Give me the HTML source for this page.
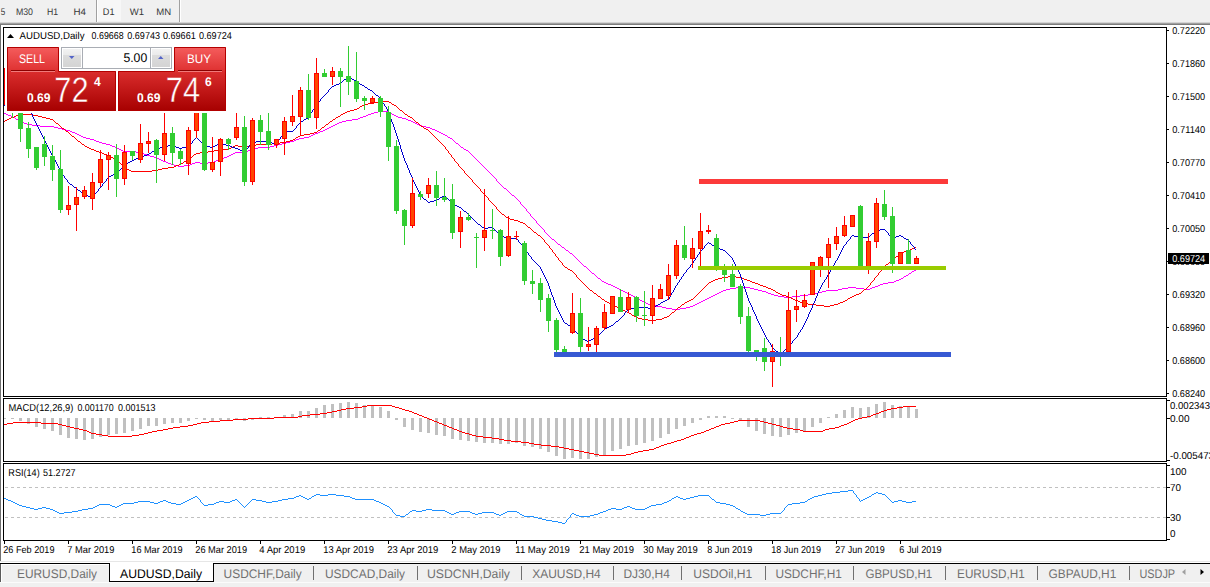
<!DOCTYPE html>
<html><head><meta charset="utf-8"><title>AUDUSD,Daily</title>
<style>
html,body{margin:0;padding:0;background:#fff;overflow:hidden;}
body{width:1210px;height:587px;}
svg{display:block;font-family:"Liberation Sans", sans-serif;text-rendering:geometricPrecision;}
</style></head><body>
<svg width="1210" height="587" viewBox="0 0 1210 587">
<rect x="0" y="0" width="1210" height="587" fill="#ffffff"/>
<rect x="0" y="0" width="1210" height="22" fill="#f0f0f0"/>
<rect x="0" y="22" width="1210" height="1" fill="#d4d4d4"/>
<rect x="0" y="23" width="1210" height="1" fill="#a0a0a0"/>
<rect x="0" y="24" width="1210" height="1" fill="#7c7c7c"/>
<rect x="97" y="0" width="24" height="21" fill="#f7f7f7"/>
<rect x="96" y="0" width="1" height="22" fill="#a0a0a0"/>
<rect x="97" y="0" width="1" height="22" fill="#ffffff"/>
<rect x="179" y="0" width="1" height="22" fill="#a0a0a0"/>
<rect x="180" y="0" width="1" height="22" fill="#ffffff"/>
<text x="0.7" y="15" font-size="9.6" fill="#383838" font-weight="normal" text-anchor="start" textLength="4.5" lengthAdjust="spacingAndGlyphs">5</text>
<text x="15.9" y="15" font-size="9.6" fill="#383838" font-weight="normal" text-anchor="start" textLength="17.1" lengthAdjust="spacingAndGlyphs">M30</text>
<text x="46.9" y="15" font-size="9.6" fill="#383838" font-weight="normal" text-anchor="start" textLength="11.1" lengthAdjust="spacingAndGlyphs">H1</text>
<text x="73.5" y="15" font-size="9.6" fill="#383838" font-weight="normal" text-anchor="start" textLength="12.5" lengthAdjust="spacingAndGlyphs">H4</text>
<text x="102.8" y="15" font-size="9.6" fill="#383838" font-weight="normal" text-anchor="start" textLength="11.7" lengthAdjust="spacingAndGlyphs">D1</text>
<text x="129.8" y="15" font-size="9.6" fill="#383838" font-weight="normal" text-anchor="start" textLength="14.3" lengthAdjust="spacingAndGlyphs">W1</text>
<text x="156.2" y="15" font-size="9.6" fill="#383838" font-weight="normal" text-anchor="start" textLength="14.9" lengthAdjust="spacingAndGlyphs">MN</text>
<rect x="0" y="25" width="1" height="536" fill="#707070"/>
<rect x="3" y="27" width="1164" height="1" fill="#000"/>
<rect x="3" y="396" width="1164" height="1" fill="#000"/>
<rect x="3" y="27" width="1" height="370" fill="#000"/>
<rect x="1166" y="27" width="1" height="370" fill="#000"/>
<rect x="3" y="398" width="1164" height="1" fill="#000"/>
<rect x="3" y="461" width="1164" height="1" fill="#000"/>
<rect x="3" y="398" width="1" height="64" fill="#000"/>
<rect x="1166" y="398" width="1" height="64" fill="#000"/>
<rect x="3" y="463" width="1164" height="1" fill="#000"/>
<rect x="3" y="540" width="1164" height="1" fill="#000"/>
<rect x="3" y="463" width="1" height="78" fill="#000"/>
<rect x="1166" y="463" width="1" height="78" fill="#000"/>
<g shape-rendering="crispEdges">
<clipPath id="cm"><rect x="4" y="28" width="1162" height="368"/></clipPath>
<g clip-path="url(#cm)">
<path d="M378,111h11v1h-11zM374,112h4v1h-4zM389,112h2v1h-2zM4,113h2v1h-2zM371,113h3v1h-3zM391,113h1v1h-1zM6,114h2v1h-2zM368,114h3v1h-3zM392,114h2v1h-2zM8,115h3v1h-3zM366,115h2v1h-2zM394,115h2v1h-2zM11,116h2v1h-2zM363,116h3v1h-3zM396,116h2v1h-2zM13,117h2v1h-2zM360,117h3v1h-3zM398,117h4v1h-4zM15,118h1v1h-1zM358,118h2v1h-2zM402,118h4v1h-4zM16,119h2v1h-2zM352,119h6v1h-6zM406,119h2v1h-2zM18,120h2v1h-2zM346,120h6v1h-6zM408,120h3v1h-3zM20,121h2v1h-2zM342,121h4v1h-4zM411,121h2v1h-2zM22,122h2v1h-2zM339,122h3v1h-3zM413,122h2v1h-2zM24,123h3v1h-3zM337,123h2v1h-2zM415,123h2v1h-2zM27,124h5v1h-5zM335,124h2v1h-2zM417,124h2v1h-2zM32,125h8v1h-8zM333,125h2v1h-2zM419,125h3v1h-3zM40,126h14v1h-14zM331,126h2v1h-2zM422,126h4v1h-4zM54,127h4v1h-4zM329,127h2v1h-2zM426,127h4v1h-4zM58,128h4v1h-4zM327,128h2v1h-2zM430,128h2v1h-2zM62,129h4v1h-4zM325,129h2v1h-2zM432,129h3v1h-3zM66,130h4v1h-4zM323,130h2v1h-2zM435,130h2v1h-2zM70,131h2v1h-2zM320,131h3v1h-3zM437,131h2v1h-2zM72,132h3v1h-3zM318,132h2v1h-2zM439,132h2v1h-2zM75,133h2v1h-2zM315,133h3v1h-3zM441,133h2v1h-2zM77,134h2v1h-2zM313,134h2v1h-2zM443,134h2v1h-2zM79,135h2v1h-2zM311,135h2v1h-2zM445,135h2v1h-2zM81,136h2v1h-2zM309,136h2v1h-2zM447,136h1v1h-1zM83,137h3v1h-3zM304,137h5v1h-5zM448,137h2v1h-2zM86,138h4v1h-4zM299,138h5v1h-5zM450,138h2v1h-2zM90,139h4v1h-4zM296,139h3v1h-3zM452,139h1v1h-1zM94,140h2v1h-2zM294,140h2v1h-2zM453,140h1v1h-1zM96,141h3v1h-3zM290,141h4v1h-4zM454,141h1v1h-1zM99,142h3v1h-3zM286,142h4v1h-4zM455,142h1v1h-1zM102,143h4v1h-4zM282,143h4v1h-4zM456,143h2v1h-2zM106,144h4v1h-4zM278,144h4v1h-4zM458,144h1v1h-1zM110,145h2v1h-2zM274,145h4v1h-4zM459,145h1v1h-1zM112,146h3v1h-3zM270,146h4v1h-4zM460,146h1v1h-1zM115,147h2v1h-2zM258,147h12v1h-12zM461,147h2v1h-2zM117,148h2v1h-2zM254,148h4v1h-4zM463,148h1v1h-1zM119,149h2v1h-2zM251,149h3v1h-3zM464,149h2v1h-2zM121,150h2v1h-2zM248,150h3v1h-3zM466,150h2v1h-2zM123,151h13v1h-13zM246,151h2v1h-2zM468,151h1v1h-1zM136,152h6v1h-6zM235,152h11v1h-11zM469,152h1v1h-1zM142,153h2v1h-2zM233,153h2v1h-2zM470,153h1v1h-1zM144,154h3v1h-3zM231,154h2v1h-2zM471,154h1v1h-1zM147,155h3v1h-3zM229,155h2v1h-2zM472,155h1v1h-1zM150,156h4v1h-4zM227,156h2v1h-2zM473,156h1v1h-1zM154,157h3v1h-3zM224,157h3v1h-3zM474,157h1v1h-1zM157,158h2v1h-2zM222,158h2v1h-2zM475,158h1v1h-1zM159,159h2v1h-2zM219,159h3v1h-3zM476,159h1v1h-1zM161,160h2v1h-2zM216,160h3v1h-3zM477,160h1v1h-1zM163,161h3v1h-3zM214,161h2v1h-2zM478,161h1v1h-1zM166,162h2v1h-2zM195,162h5v1h-5zM208,162h6v1h-6zM479,162h1v1h-1zM168,163h3v1h-3zM192,163h3v1h-3zM200,163h8v1h-8zM480,163h1v1h-1zM171,164h3v1h-3zM190,164h2v1h-2zM481,164h1v1h-1zM174,165h4v1h-4zM184,165h6v1h-6zM482,165h1v1h-1zM178,166h6v1h-6zM483,166h1v1h-1zM484,167h1v1h-1zM485,168h1v1h-1zM486,169h1v1h-1zM487,170h1v1h-1zM488,171h1v1h-1zM489,172h1v1h-1zM490,173h1v1h-1zM491,174h1v1h-1zM492,175h1v1h-1zM493,176h1v1h-1zM494,177h1v1h-1zM495,178h1v1h-1zM496,179h1v1h-1zM496,180h1v1h-1zM497,181h1v1h-1zM498,182h1v1h-1zM499,183h1v1h-1zM500,184h1v1h-1zM501,185h1v1h-1zM502,186h1v1h-1zM503,187h1v1h-1zM504,188h2v1h-2zM506,189h1v1h-1zM507,190h1v1h-1zM508,191h1v1h-1zM509,192h1v1h-1zM510,193h1v1h-1zM511,194h1v1h-1zM512,195h2v1h-2zM514,196h1v1h-1zM515,197h1v1h-1zM516,198h1v1h-1zM517,199h1v1h-1zM518,200h1v1h-1zM519,201h1v1h-1zM520,202h1v1h-1zM520,203h1v1h-1zM521,204h1v1h-1zM522,205h1v1h-1zM523,206h1v1h-1zM524,207h1v1h-1zM525,208h1v1h-1zM526,209h1v1h-1zM526,210h1v1h-1zM527,211h1v1h-1zM528,212h1v1h-1zM529,213h1v1h-1zM530,214h1v1h-1zM530,215h1v1h-1zM531,216h1v1h-1zM532,217h1v1h-1zM533,218h1v1h-1zM534,219h1v1h-1zM535,220h1v1h-1zM536,221h1v1h-1zM536,222h1v1h-1zM537,223h1v1h-1zM538,224h1v1h-1zM539,225h1v1h-1zM540,226h1v1h-1zM541,227h1v1h-1zM542,228h1v1h-1zM543,229h1v1h-1zM544,230h1v1h-1zM544,231h1v1h-1zM545,232h1v1h-1zM546,233h1v1h-1zM547,234h1v1h-1zM548,235h1v1h-1zM549,236h1v1h-1zM550,237h1v1h-1zM551,238h1v1h-1zM552,239h2v1h-2zM554,240h1v1h-1zM555,241h1v1h-1zM556,242h1v1h-1zM557,243h1v1h-1zM558,244h2v1h-2zM560,245h1v1h-1zM561,246h1v1h-1zM562,247h2v1h-2zM564,248h1v1h-1zM565,249h1v1h-1zM566,250h2v1h-2zM568,251h1v1h-1zM569,252h1v1h-1zM570,253h2v1h-2zM572,254h1v1h-1zM573,255h1v1h-1zM574,256h1v1h-1zM575,257h1v1h-1zM576,258h1v1h-1zM577,259h1v1h-1zM578,260h1v1h-1zM579,261h1v1h-1zM580,262h1v1h-1zM581,263h1v1h-1zM582,264h1v1h-1zM583,265h1v1h-1zM584,266h2v1h-2zM586,267h1v1h-1zM587,268h1v1h-1zM588,269h1v1h-1zM589,270h1v1h-1zM914,270h2v1h-2zM590,271h1v1h-1zM912,271h2v1h-2zM591,272h1v1h-1zM911,272h1v1h-1zM592,273h2v1h-2zM909,273h2v1h-2zM594,274h1v1h-1zM908,274h1v1h-1zM595,275h1v1h-1zM906,275h2v1h-2zM596,276h1v1h-1zM904,276h2v1h-2zM597,277h1v1h-1zM903,277h1v1h-1zM598,278h2v1h-2zM901,278h2v1h-2zM600,279h1v1h-1zM899,279h2v1h-2zM601,280h1v1h-1zM896,280h3v1h-3zM602,281h2v1h-2zM894,281h2v1h-2zM604,282h2v1h-2zM888,282h6v1h-6zM606,283h2v1h-2zM883,283h5v1h-5zM608,284h3v1h-3zM880,284h3v1h-3zM611,285h2v1h-2zM878,285h2v1h-2zM613,286h2v1h-2zM875,286h3v1h-3zM615,287h2v1h-2zM736,287h14v1h-14zM848,287h8v1h-8zM872,287h3v1h-3zM617,288h2v1h-2zM730,288h6v1h-6zM750,288h4v1h-4zM842,288h6v1h-6zM856,288h8v1h-8zM870,288h2v1h-2zM619,289h2v1h-2zM726,289h4v1h-4zM754,289h4v1h-4zM838,289h4v1h-4zM864,289h6v1h-6zM621,290h2v1h-2zM723,290h3v1h-3zM758,290h4v1h-4zM826,290h12v1h-12zM623,291h2v1h-2zM721,291h2v1h-2zM762,291h4v1h-4zM822,291h4v1h-4zM625,292h2v1h-2zM719,292h2v1h-2zM766,292h2v1h-2zM818,292h4v1h-4zM627,293h2v1h-2zM717,293h2v1h-2zM768,293h3v1h-3zM814,293h4v1h-4zM629,294h2v1h-2zM715,294h2v1h-2zM771,294h3v1h-3zM808,294h6v1h-6zM631,295h2v1h-2zM713,295h2v1h-2zM774,295h4v1h-4zM800,295h8v1h-8zM633,296h2v1h-2zM711,296h2v1h-2zM778,296h6v1h-6zM792,296h8v1h-8zM635,297h2v1h-2zM709,297h2v1h-2zM784,297h8v1h-8zM637,298h2v1h-2zM707,298h2v1h-2zM639,299h1v1h-1zM705,299h2v1h-2zM640,300h2v1h-2zM703,300h2v1h-2zM642,301h2v1h-2zM701,301h2v1h-2zM644,302h2v1h-2zM699,302h2v1h-2zM646,303h2v1h-2zM697,303h2v1h-2zM648,304h3v1h-3zM695,304h2v1h-2zM651,305h5v1h-5zM693,305h2v1h-2zM656,306h6v1h-6zM690,306h3v1h-3zM662,307h4v1h-4zM686,307h4v1h-4zM666,308h6v1h-6zM680,308h6v1h-6zM672,309h8v1h-8z" fill="#ff00ff"/>
<path d="M378,101h11v1h-11zM374,102h4v1h-4zM389,102h2v1h-2zM368,103h6v1h-6zM391,103h1v1h-1zM364,104h4v1h-4zM392,104h2v1h-2zM362,105h2v1h-2zM394,105h2v1h-2zM360,106h2v1h-2zM396,106h1v1h-1zM359,107h1v1h-1zM397,107h1v1h-1zM357,108h2v1h-2zM398,108h1v1h-1zM354,109h3v1h-3zM399,109h1v1h-1zM350,110h4v1h-4zM400,110h2v1h-2zM347,111h3v1h-3zM402,111h1v1h-1zM345,112h2v1h-2zM403,112h1v1h-1zM343,113h2v1h-2zM404,113h1v1h-1zM19,114h13v1h-13zM341,114h2v1h-2zM405,114h2v1h-2zM16,115h3v1h-3zM32,115h6v1h-6zM340,115h1v1h-1zM407,115h1v1h-1zM14,116h2v1h-2zM38,116h4v1h-4zM338,116h2v1h-2zM408,116h2v1h-2zM11,117h3v1h-3zM42,117h4v1h-4zM336,117h2v1h-2zM410,117h2v1h-2zM9,118h2v1h-2zM46,118h4v1h-4zM335,118h1v1h-1zM412,118h1v1h-1zM7,119h2v1h-2zM50,119h3v1h-3zM333,119h2v1h-2zM413,119h1v1h-1zM5,120h2v1h-2zM53,120h1v1h-1zM332,120h1v1h-1zM414,120h1v1h-1zM4,121h1v1h-1zM54,121h1v1h-1zM330,121h2v1h-2zM415,121h1v1h-1zM55,122h1v1h-1zM329,122h1v1h-1zM416,122h2v1h-2zM56,123h2v1h-2zM328,123h1v1h-1zM418,123h1v1h-1zM58,124h1v1h-1zM326,124h2v1h-2zM419,124h1v1h-1zM59,125h1v1h-1zM325,125h1v1h-1zM420,125h1v1h-1zM60,126h1v1h-1zM324,126h1v1h-1zM421,126h2v1h-2zM61,127h1v1h-1zM322,127h2v1h-2zM423,127h1v1h-1zM62,128h2v1h-2zM321,128h1v1h-1zM424,128h2v1h-2zM64,129h1v1h-1zM320,129h1v1h-1zM426,129h2v1h-2zM65,130h1v1h-1zM318,130h2v1h-2zM428,130h1v1h-1zM66,131h2v1h-2zM317,131h1v1h-1zM429,131h1v1h-1zM68,132h1v1h-1zM314,132h3v1h-3zM430,132h1v1h-1zM69,133h1v1h-1zM310,133h4v1h-4zM431,133h1v1h-1zM70,134h1v1h-1zM304,134h6v1h-6zM432,134h1v1h-1zM71,135h1v1h-1zM300,135h4v1h-4zM433,135h1v1h-1zM72,136h2v1h-2zM298,136h2v1h-2zM434,136h1v1h-1zM74,137h1v1h-1zM296,137h2v1h-2zM435,137h1v1h-1zM75,138h1v1h-1zM295,138h1v1h-1zM436,138h1v1h-1zM76,139h1v1h-1zM293,139h2v1h-2zM437,139h1v1h-1zM77,140h1v1h-1zM290,140h3v1h-3zM438,140h1v1h-1zM78,141h2v1h-2zM286,141h4v1h-4zM439,141h1v1h-1zM80,142h1v1h-1zM280,142h6v1h-6zM440,142h1v1h-1zM81,143h1v1h-1zM272,143h8v1h-8zM441,143h1v1h-1zM82,144h2v1h-2zM256,144h16v1h-16zM442,144h1v1h-1zM84,145h1v1h-1zM235,145h3v1h-3zM250,145h6v1h-6zM443,145h1v1h-1zM85,146h2v1h-2zM233,146h2v1h-2zM238,146h4v1h-4zM246,146h4v1h-4zM444,146h1v1h-1zM87,147h2v1h-2zM231,147h2v1h-2zM242,147h4v1h-4zM445,147h1v1h-1zM89,148h2v1h-2zM229,148h2v1h-2zM445,148h1v1h-1zM91,149h3v1h-3zM218,149h11v1h-11zM446,149h1v1h-1zM94,150h2v1h-2zM214,150h4v1h-4zM447,150h1v1h-1zM96,151h3v1h-3zM208,151h6v1h-6zM448,151h1v1h-1zM99,152h3v1h-3zM200,152h8v1h-8zM448,152h1v1h-1zM102,153h2v1h-2zM196,153h4v1h-4zM449,153h1v1h-1zM104,154h3v1h-3zM194,154h2v1h-2zM450,154h1v1h-1zM107,155h2v1h-2zM193,155h1v1h-1zM451,155h1v1h-1zM109,156h2v1h-2zM192,156h1v1h-1zM451,156h1v1h-1zM111,157h2v1h-2zM190,157h2v1h-2zM452,157h1v1h-1zM113,158h2v1h-2zM189,158h1v1h-1zM453,158h1v1h-1zM115,159h2v1h-2zM188,159h1v1h-1zM454,159h1v1h-1zM117,160h1v1h-1zM186,160h2v1h-2zM454,160h1v1h-1zM118,161h1v1h-1zM184,161h2v1h-2zM455,161h1v1h-1zM119,162h1v1h-1zM183,162h1v1h-1zM456,162h1v1h-1zM120,163h1v1h-1zM181,163h2v1h-2zM457,163h1v1h-1zM121,164h1v1h-1zM179,164h2v1h-2zM458,164h1v1h-1zM122,165h1v1h-1zM176,165h3v1h-3zM458,165h1v1h-1zM123,166h1v1h-1zM174,166h2v1h-2zM459,166h1v1h-1zM124,167h1v1h-1zM168,167h6v1h-6zM460,167h1v1h-1zM125,168h2v1h-2zM162,168h6v1h-6zM461,168h1v1h-1zM127,169h2v1h-2zM158,169h4v1h-4zM462,169h1v1h-1zM129,170h2v1h-2zM152,170h6v1h-6zM463,170h1v1h-1zM131,171h21v1h-21zM464,171h1v1h-1zM464,172h1v1h-1zM465,173h1v1h-1zM466,174h1v1h-1zM467,175h1v1h-1zM468,176h1v1h-1zM469,177h1v1h-1zM470,178h1v1h-1zM471,179h1v1h-1zM472,180h1v1h-1zM472,181h1v1h-1zM473,182h1v1h-1zM474,183h1v1h-1zM475,184h1v1h-1zM476,185h1v1h-1zM477,186h1v1h-1zM478,187h1v1h-1zM479,188h1v1h-1zM480,189h1v1h-1zM480,190h1v1h-1zM481,191h1v1h-1zM482,192h1v1h-1zM483,193h1v1h-1zM484,194h1v1h-1zM485,195h1v1h-1zM486,196h1v1h-1zM487,197h1v1h-1zM488,198h1v1h-1zM488,199h1v1h-1zM489,200h1v1h-1zM490,201h1v1h-1zM491,202h1v1h-1zM492,203h1v1h-1zM493,204h1v1h-1zM494,205h1v1h-1zM495,206h1v1h-1zM496,207h1v1h-1zM496,208h1v1h-1zM497,209h1v1h-1zM498,210h1v1h-1zM499,211h1v1h-1zM500,212h1v1h-1zM501,213h1v1h-1zM502,214h2v1h-2zM504,215h1v1h-1zM505,216h1v1h-1zM506,217h2v1h-2zM508,218h2v1h-2zM510,219h4v1h-4zM514,220h4v1h-4zM518,221h2v1h-2zM520,222h3v1h-3zM523,223h2v1h-2zM525,224h1v1h-1zM526,225h1v1h-1zM527,226h1v1h-1zM528,227h2v1h-2zM530,228h1v1h-1zM531,229h1v1h-1zM532,230h1v1h-1zM533,231h1v1h-1zM534,232h2v1h-2zM536,233h1v1h-1zM537,234h1v1h-1zM538,235h2v1h-2zM540,236h1v1h-1zM541,237h1v1h-1zM542,238h1v1h-1zM543,239h1v1h-1zM544,240h1v1h-1zM544,241h1v1h-1zM545,242h1v1h-1zM546,243h1v1h-1zM547,244h1v1h-1zM548,245h1v1h-1zM549,246h1v1h-1zM549,247h1v1h-1zM915,247h1v1h-1zM550,248h1v1h-1zM912,248h3v1h-3zM551,249h1v1h-1zM910,249h2v1h-2zM552,250h1v1h-1zM907,250h3v1h-3zM552,251h1v1h-1zM904,251h3v1h-3zM553,252h1v1h-1zM902,252h2v1h-2zM554,253h1v1h-1zM900,253h2v1h-2zM555,254h1v1h-1zM899,254h1v1h-1zM555,255h1v1h-1zM898,255h1v1h-1zM556,256h1v1h-1zM896,256h2v1h-2zM557,257h1v1h-1zM895,257h1v1h-1zM558,258h1v1h-1zM894,258h1v1h-1zM558,259h1v1h-1zM893,259h1v1h-1zM559,260h1v1h-1zM892,260h1v1h-1zM560,261h1v1h-1zM890,261h2v1h-2zM561,262h1v1h-1zM889,262h1v1h-1zM562,263h1v1h-1zM888,263h1v1h-1zM562,264h1v1h-1zM886,264h2v1h-2zM563,265h1v1h-1zM885,265h1v1h-1zM564,266h1v1h-1zM884,266h1v1h-1zM565,267h2v1h-2zM883,267h1v1h-1zM567,268h1v1h-1zM882,268h1v1h-1zM568,269h2v1h-2zM882,269h1v1h-1zM570,270h2v1h-2zM881,270h1v1h-1zM572,271h1v1h-1zM880,271h1v1h-1zM573,272h1v1h-1zM879,272h1v1h-1zM574,273h1v1h-1zM878,273h1v1h-1zM575,274h1v1h-1zM878,274h1v1h-1zM576,275h1v1h-1zM877,275h1v1h-1zM576,276h1v1h-1zM728,276h8v1h-8zM876,276h1v1h-1zM577,277h1v1h-1zM722,277h6v1h-6zM736,277h6v1h-6zM875,277h1v1h-1zM578,278h1v1h-1zM718,278h4v1h-4zM742,278h2v1h-2zM874,278h1v1h-1zM579,279h1v1h-1zM715,279h3v1h-3zM744,279h3v1h-3zM874,279h1v1h-1zM580,280h1v1h-1zM713,280h2v1h-2zM747,280h3v1h-3zM873,280h1v1h-1zM581,281h1v1h-1zM711,281h2v1h-2zM750,281h2v1h-2zM872,281h1v1h-1zM582,282h1v1h-1zM709,282h2v1h-2zM752,282h3v1h-3zM871,282h1v1h-1zM583,283h1v1h-1zM708,283h1v1h-1zM755,283h3v1h-3zM870,283h1v1h-1zM584,284h1v1h-1zM707,284h1v1h-1zM758,284h2v1h-2zM870,284h1v1h-1zM585,285h1v1h-1zM706,285h1v1h-1zM760,285h3v1h-3zM869,285h1v1h-1zM586,286h1v1h-1zM705,286h1v1h-1zM763,286h3v1h-3zM868,286h1v1h-1zM587,287h1v1h-1zM704,287h1v1h-1zM766,287h2v1h-2zM867,287h1v1h-1zM588,288h1v1h-1zM703,288h1v1h-1zM768,288h3v1h-3zM866,288h1v1h-1zM589,289h1v1h-1zM702,289h1v1h-1zM771,289h2v1h-2zM864,289h2v1h-2zM590,290h2v1h-2zM701,290h1v1h-1zM773,290h2v1h-2zM863,290h1v1h-1zM592,291h1v1h-1zM700,291h1v1h-1zM775,291h1v1h-1zM862,291h1v1h-1zM593,292h1v1h-1zM699,292h1v1h-1zM776,292h2v1h-2zM861,292h1v1h-1zM594,293h2v1h-2zM698,293h1v1h-1zM778,293h2v1h-2zM859,293h2v1h-2zM596,294h1v1h-1zM697,294h1v1h-1zM780,294h2v1h-2zM856,294h3v1h-3zM597,295h1v1h-1zM696,295h1v1h-1zM782,295h4v1h-4zM854,295h2v1h-2zM598,296h2v1h-2zM695,296h1v1h-1zM786,296h3v1h-3zM852,296h2v1h-2zM600,297h1v1h-1zM694,297h1v1h-1zM789,297h2v1h-2zM850,297h2v1h-2zM601,298h1v1h-1zM693,298h1v1h-1zM791,298h2v1h-2zM848,298h2v1h-2zM602,299h2v1h-2zM691,299h2v1h-2zM793,299h2v1h-2zM847,299h1v1h-1zM604,300h1v1h-1zM689,300h2v1h-2zM795,300h3v1h-3zM845,300h2v1h-2zM605,301h2v1h-2zM687,301h2v1h-2zM798,301h2v1h-2zM843,301h2v1h-2zM607,302h2v1h-2zM685,302h2v1h-2zM800,302h3v1h-3zM840,302h3v1h-3zM609,303h2v1h-2zM684,303h1v1h-1zM803,303h5v1h-5zM838,303h2v1h-2zM611,304h2v1h-2zM682,304h2v1h-2zM808,304h8v1h-8zM834,304h4v1h-4zM613,305h2v1h-2zM681,305h1v1h-1zM816,305h8v1h-8zM830,305h4v1h-4zM615,306h2v1h-2zM680,306h1v1h-1zM824,306h6v1h-6zM617,307h2v1h-2zM678,307h2v1h-2zM619,308h2v1h-2zM677,308h1v1h-1zM621,309h2v1h-2zM676,309h1v1h-1zM623,310h2v1h-2zM675,310h1v1h-1zM625,311h2v1h-2zM674,311h1v1h-1zM627,312h2v1h-2zM672,312h2v1h-2zM629,313h2v1h-2zM671,313h1v1h-1zM631,314h1v1h-1zM670,314h1v1h-1zM632,315h2v1h-2zM669,315h1v1h-1zM634,316h2v1h-2zM667,316h2v1h-2zM636,317h2v1h-2zM664,317h3v1h-3zM638,318h4v1h-4zM662,318h2v1h-2zM642,319h6v1h-6zM656,319h6v1h-6zM648,320h8v1h-8z" fill="#ff0000"/>
<path d="M348,76h1v1h-1zM347,77h1v1h-1zM349,77h2v1h-2zM346,78h1v1h-1zM351,78h1v1h-1zM344,79h2v1h-2zM352,79h2v1h-2zM343,80h1v1h-1zM354,80h2v1h-2zM342,81h1v1h-1zM356,81h1v1h-1zM341,82h1v1h-1zM357,82h2v1h-2zM339,83h2v1h-2zM359,83h1v1h-1zM336,84h3v1h-3zM360,84h2v1h-2zM334,85h2v1h-2zM362,85h2v1h-2zM332,86h2v1h-2zM364,86h1v1h-1zM331,87h1v1h-1zM365,87h2v1h-2zM330,88h1v1h-1zM367,88h1v1h-1zM329,89h1v1h-1zM368,89h2v1h-2zM328,90h1v1h-1zM370,90h2v1h-2zM328,91h1v1h-1zM372,91h1v1h-1zM327,92h1v1h-1zM373,92h1v1h-1zM326,93h1v1h-1zM374,93h1v1h-1zM325,94h1v1h-1zM375,94h1v1h-1zM324,95h1v1h-1zM376,95h2v1h-2zM323,96h1v1h-1zM378,96h1v1h-1zM322,97h1v1h-1zM379,97h1v1h-1zM321,98h1v1h-1zM380,98h1v1h-1zM320,99h1v1h-1zM381,99h1v1h-1zM12,100h9v1h-9zM320,100h1v1h-1zM381,100h1v1h-1zM10,101h2v1h-2zM21,101h1v1h-1zM319,101h1v1h-1zM382,101h1v1h-1zM8,102h2v1h-2zM22,102h2v1h-2zM318,102h1v1h-1zM382,102h1v1h-1zM7,103h1v1h-1zM24,103h1v1h-1zM317,103h1v1h-1zM383,103h1v1h-1zM5,104h2v1h-2zM25,104h1v1h-1zM316,104h1v1h-1zM384,104h1v1h-1zM4,105h1v1h-1zM26,105h2v1h-2zM315,105h1v1h-1zM384,105h1v1h-1zM28,106h1v1h-1zM315,106h1v1h-1zM385,106h1v1h-1zM28,107h1v1h-1zM314,107h1v1h-1zM386,107h1v1h-1zM29,108h1v1h-1zM314,108h1v1h-1zM386,108h1v1h-1zM29,109h1v1h-1zM313,109h1v1h-1zM387,109h1v1h-1zM30,110h1v1h-1zM312,110h1v1h-1zM387,110h1v1h-1zM30,111h1v1h-1zM312,111h1v1h-1zM388,111h1v1h-1zM31,112h1v1h-1zM311,112h1v1h-1zM388,112h1v1h-1zM31,113h1v1h-1zM310,113h1v1h-1zM389,113h1v1h-1zM32,114h1v1h-1zM310,114h1v1h-1zM389,114h1v1h-1zM32,115h1v1h-1zM309,115h1v1h-1zM389,115h1v1h-1zM32,116h1v1h-1zM309,116h1v1h-1zM390,116h1v1h-1zM33,117h1v1h-1zM308,117h1v1h-1zM390,117h1v1h-1zM33,118h1v1h-1zM306,118h2v1h-2zM390,118h1v1h-1zM34,119h1v1h-1zM304,119h2v1h-2zM391,119h1v1h-1zM34,120h1v1h-1zM303,120h1v1h-1zM391,120h1v1h-1zM35,121h1v1h-1zM301,121h2v1h-2zM391,121h1v1h-1zM35,122h1v1h-1zM300,122h1v1h-1zM392,122h1v1h-1zM36,123h1v1h-1zM299,123h1v1h-1zM392,123h1v1h-1zM36,124h1v1h-1zM298,124h1v1h-1zM393,124h1v1h-1zM37,125h1v1h-1zM297,125h1v1h-1zM393,125h1v1h-1zM37,126h1v1h-1zM296,126h1v1h-1zM393,126h1v1h-1zM38,127h1v1h-1zM296,127h1v1h-1zM394,127h1v1h-1zM38,128h1v1h-1zM295,128h1v1h-1zM394,128h1v1h-1zM39,129h1v1h-1zM294,129h1v1h-1zM394,129h1v1h-1zM39,130h1v1h-1zM293,130h1v1h-1zM395,130h1v1h-1zM40,131h1v1h-1zM284,131h9v1h-9zM395,131h1v1h-1zM40,132h1v1h-1zM283,132h1v1h-1zM395,132h1v1h-1zM41,133h1v1h-1zM283,133h1v1h-1zM396,133h1v1h-1zM41,134h1v1h-1zM282,134h1v1h-1zM396,134h1v1h-1zM42,135h1v1h-1zM282,135h1v1h-1zM396,135h1v1h-1zM42,136h1v1h-1zM281,136h1v1h-1zM397,136h1v1h-1zM43,137h1v1h-1zM196,137h1v1h-1zM280,137h1v1h-1zM397,137h1v1h-1zM43,138h1v1h-1zM195,138h1v1h-1zM197,138h1v1h-1zM280,138h1v1h-1zM397,138h1v1h-1zM44,139h1v1h-1zM194,139h1v1h-1zM198,139h1v1h-1zM279,139h1v1h-1zM398,139h1v1h-1zM44,140h1v1h-1zM193,140h1v1h-1zM199,140h1v1h-1zM278,140h1v1h-1zM398,140h1v1h-1zM45,141h1v1h-1zM192,141h1v1h-1zM200,141h1v1h-1zM256,141h14v1h-14zM278,141h1v1h-1zM398,141h1v1h-1zM45,142h1v1h-1zM192,142h1v1h-1zM201,142h1v1h-1zM252,142h4v1h-4zM270,142h2v1h-2zM277,142h1v1h-1zM399,142h1v1h-1zM46,143h1v1h-1zM191,143h1v1h-1zM202,143h1v1h-1zM219,143h3v1h-3zM251,143h1v1h-1zM272,143h3v1h-3zM277,143h1v1h-1zM399,143h1v1h-1zM46,144h1v1h-1zM190,144h1v1h-1zM203,144h1v1h-1zM217,144h2v1h-2zM222,144h4v1h-4zM250,144h1v1h-1zM275,144h2v1h-2zM399,144h1v1h-1zM47,145h1v1h-1zM168,145h6v1h-6zM189,145h1v1h-1zM204,145h2v1h-2zM215,145h2v1h-2zM226,145h4v1h-4zM249,145h1v1h-1zM400,145h1v1h-1zM47,146h1v1h-1zM163,146h5v1h-5zM174,146h2v1h-2zM186,146h3v1h-3zM206,146h4v1h-4zM213,146h2v1h-2zM230,146h2v1h-2zM248,146h1v1h-1zM400,146h1v1h-1zM48,147h1v1h-1zM160,147h3v1h-3zM176,147h3v1h-3zM182,147h4v1h-4zM210,147h3v1h-3zM232,147h3v1h-3zM248,147h1v1h-1zM400,147h1v1h-1zM48,148h1v1h-1zM158,148h2v1h-2zM179,148h3v1h-3zM235,148h3v1h-3zM247,148h1v1h-1zM400,148h1v1h-1zM49,149h1v1h-1zM156,149h2v1h-2zM238,149h2v1h-2zM246,149h1v1h-1zM401,149h1v1h-1zM49,150h1v1h-1zM154,150h2v1h-2zM240,150h3v1h-3zM245,150h1v1h-1zM401,150h1v1h-1zM50,151h1v1h-1zM152,151h2v1h-2zM243,151h2v1h-2zM401,151h1v1h-1zM50,152h1v1h-1zM151,152h1v1h-1zM402,152h1v1h-1zM51,153h1v1h-1zM149,153h2v1h-2zM402,153h1v1h-1zM51,154h1v1h-1zM147,154h2v1h-2zM402,154h1v1h-1zM52,155h1v1h-1zM144,155h3v1h-3zM403,155h1v1h-1zM53,156h1v1h-1zM142,156h2v1h-2zM403,156h1v1h-1zM53,157h1v1h-1zM139,157h3v1h-3zM403,157h1v1h-1zM54,158h1v1h-1zM136,158h3v1h-3zM404,158h1v1h-1zM54,159h1v1h-1zM134,159h2v1h-2zM404,159h1v1h-1zM55,160h1v1h-1zM132,160h2v1h-2zM404,160h1v1h-1zM55,161h1v1h-1zM130,161h2v1h-2zM405,161h1v1h-1zM56,162h1v1h-1zM128,162h2v1h-2zM405,162h1v1h-1zM56,163h1v1h-1zM127,163h1v1h-1zM406,163h1v1h-1zM57,164h1v1h-1zM125,164h2v1h-2zM406,164h1v1h-1zM57,165h1v1h-1zM124,165h1v1h-1zM407,165h1v1h-1zM58,166h1v1h-1zM123,166h1v1h-1zM407,166h1v1h-1zM58,167h1v1h-1zM122,167h1v1h-1zM407,167h1v1h-1zM59,168h1v1h-1zM121,168h1v1h-1zM408,168h1v1h-1zM59,169h1v1h-1zM120,169h1v1h-1zM408,169h1v1h-1zM60,170h1v1h-1zM119,170h1v1h-1zM409,170h1v1h-1zM60,171h1v1h-1zM118,171h1v1h-1zM409,171h1v1h-1zM61,172h1v1h-1zM117,172h1v1h-1zM409,172h1v1h-1zM61,173h1v1h-1zM115,173h2v1h-2zM410,173h1v1h-1zM62,174h1v1h-1zM113,174h2v1h-2zM410,174h1v1h-1zM63,175h1v1h-1zM111,175h2v1h-2zM411,175h1v1h-1zM64,176h1v1h-1zM109,176h2v1h-2zM411,176h1v1h-1zM64,177h1v1h-1zM108,177h1v1h-1zM412,177h1v1h-1zM65,178h1v1h-1zM107,178h1v1h-1zM412,178h1v1h-1zM66,179h1v1h-1zM106,179h1v1h-1zM412,179h1v1h-1zM67,180h1v1h-1zM106,180h1v1h-1zM413,180h1v1h-1zM67,181h1v1h-1zM105,181h1v1h-1zM413,181h1v1h-1zM68,182h1v1h-1zM104,182h1v1h-1zM414,182h1v1h-1zM69,183h1v1h-1zM103,183h1v1h-1zM414,183h1v1h-1zM70,184h2v1h-2zM102,184h1v1h-1zM415,184h1v1h-1zM72,185h1v1h-1zM102,185h1v1h-1zM415,185h1v1h-1zM73,186h1v1h-1zM101,186h1v1h-1zM416,186h1v1h-1zM74,187h2v1h-2zM100,187h1v1h-1zM416,187h1v1h-1zM76,188h1v1h-1zM99,188h1v1h-1zM417,188h1v1h-1zM77,189h1v1h-1zM98,189h1v1h-1zM417,189h1v1h-1zM78,190h2v1h-2zM98,190h1v1h-1zM418,190h1v1h-1zM80,191h1v1h-1zM97,191h1v1h-1zM418,191h1v1h-1zM81,192h1v1h-1zM96,192h1v1h-1zM419,192h1v1h-1zM82,193h2v1h-2zM95,193h1v1h-1zM419,193h1v1h-1zM84,194h2v1h-2zM94,194h1v1h-1zM420,194h1v1h-1zM86,195h2v1h-2zM94,195h1v1h-1zM420,195h1v1h-1zM444,195h1v1h-1zM88,196h3v1h-3zM93,196h1v1h-1zM421,196h1v1h-1zM442,196h2v1h-2zM445,196h1v1h-1zM91,197h2v1h-2zM422,197h1v1h-1zM440,197h2v1h-2zM446,197h1v1h-1zM423,198h1v1h-1zM439,198h1v1h-1zM447,198h1v1h-1zM424,199h2v1h-2zM437,199h2v1h-2zM448,199h1v1h-1zM426,200h1v1h-1zM434,200h3v1h-3zM449,200h1v1h-1zM427,201h1v1h-1zM430,201h4v1h-4zM450,201h1v1h-1zM428,202h2v1h-2zM451,202h1v1h-1zM452,203h1v1h-1zM453,204h2v1h-2zM455,205h2v1h-2zM457,206h2v1h-2zM459,207h2v1h-2zM461,208h1v1h-1zM462,209h1v1h-1zM463,210h1v1h-1zM464,211h2v1h-2zM466,212h1v1h-1zM467,213h1v1h-1zM468,214h1v1h-1zM469,215h1v1h-1zM470,216h1v1h-1zM471,217h1v1h-1zM472,218h1v1h-1zM473,219h1v1h-1zM474,220h1v1h-1zM475,221h1v1h-1zM476,222h1v1h-1zM477,223h1v1h-1zM478,224h2v1h-2zM480,225h1v1h-1zM481,226h1v1h-1zM482,227h2v1h-2zM488,227h5v1h-5zM484,228h4v1h-4zM493,228h1v1h-1zM494,229h1v1h-1zM880,229h5v1h-5zM495,230h1v1h-1zM876,230h4v1h-4zM885,230h1v1h-1zM496,231h1v1h-1zM875,231h1v1h-1zM886,231h1v1h-1zM497,232h1v1h-1zM874,232h1v1h-1zM887,232h1v1h-1zM498,233h1v1h-1zM872,233h2v1h-2zM888,233h1v1h-1zM499,234h1v1h-1zM871,234h1v1h-1zM888,234h1v1h-1zM500,235h2v1h-2zM852,235h2v1h-2zM870,235h1v1h-1zM889,235h1v1h-1zM899,235h2v1h-2zM502,236h2v1h-2zM851,236h1v1h-1zM854,236h4v1h-4zM869,236h1v1h-1zM890,236h1v1h-1zM896,236h3v1h-3zM901,236h2v1h-2zM504,237h3v1h-3zM850,237h1v1h-1zM858,237h11v1h-11zM891,237h1v1h-1zM894,237h2v1h-2zM903,237h1v1h-1zM507,238h10v1h-10zM850,238h1v1h-1zM892,238h2v1h-2zM904,238h2v1h-2zM517,239h1v1h-1zM849,239h1v1h-1zM906,239h2v1h-2zM518,240h1v1h-1zM848,240h1v1h-1zM908,240h1v1h-1zM518,241h1v1h-1zM847,241h1v1h-1zM909,241h1v1h-1zM519,242h1v1h-1zM708,242h1v1h-1zM846,242h1v1h-1zM910,242h1v1h-1zM520,243h1v1h-1zM707,243h1v1h-1zM709,243h2v1h-2zM846,243h1v1h-1zM910,243h1v1h-1zM521,244h1v1h-1zM706,244h1v1h-1zM711,244h1v1h-1zM845,244h1v1h-1zM911,244h1v1h-1zM522,245h1v1h-1zM705,245h1v1h-1zM712,245h2v1h-2zM844,245h1v1h-1zM912,245h1v1h-1zM522,246h1v1h-1zM704,246h1v1h-1zM714,246h2v1h-2zM843,246h1v1h-1zM913,246h1v1h-1zM523,247h1v1h-1zM704,247h1v1h-1zM716,247h2v1h-2zM843,247h1v1h-1zM914,247h1v1h-1zM524,248h1v1h-1zM703,248h1v1h-1zM718,248h2v1h-2zM842,248h1v1h-1zM914,248h1v1h-1zM525,249h1v1h-1zM702,249h1v1h-1zM720,249h3v1h-3zM842,249h1v1h-1zM915,249h1v1h-1zM525,250h1v1h-1zM701,250h1v1h-1zM723,250h2v1h-2zM841,250h1v1h-1zM526,251h1v1h-1zM700,251h1v1h-1zM725,251h1v1h-1zM841,251h1v1h-1zM527,252h1v1h-1zM699,252h1v1h-1zM726,252h1v1h-1zM840,252h1v1h-1zM528,253h1v1h-1zM699,253h1v1h-1zM727,253h1v1h-1zM840,253h1v1h-1zM528,254h1v1h-1zM698,254h1v1h-1zM728,254h1v1h-1zM839,254h1v1h-1zM529,255h1v1h-1zM697,255h1v1h-1zM729,255h1v1h-1zM839,255h1v1h-1zM530,256h1v1h-1zM697,256h1v1h-1zM730,256h1v1h-1zM838,256h1v1h-1zM531,257h1v1h-1zM696,257h1v1h-1zM731,257h1v1h-1zM838,257h1v1h-1zM531,258h1v1h-1zM695,258h1v1h-1zM732,258h1v1h-1zM837,258h1v1h-1zM532,259h1v1h-1zM695,259h1v1h-1zM732,259h1v1h-1zM837,259h1v1h-1zM533,260h1v1h-1zM694,260h1v1h-1zM733,260h1v1h-1zM836,260h1v1h-1zM534,261h1v1h-1zM693,261h1v1h-1zM733,261h1v1h-1zM835,261h1v1h-1zM535,262h1v1h-1zM693,262h1v1h-1zM734,262h1v1h-1zM835,262h1v1h-1zM536,263h1v1h-1zM692,263h1v1h-1zM734,263h1v1h-1zM834,263h1v1h-1zM537,264h1v1h-1zM691,264h1v1h-1zM735,264h1v1h-1zM834,264h1v1h-1zM538,265h1v1h-1zM690,265h1v1h-1zM735,265h1v1h-1zM833,265h1v1h-1zM539,266h1v1h-1zM690,266h1v1h-1zM736,266h1v1h-1zM833,266h1v1h-1zM540,267h1v1h-1zM689,267h1v1h-1zM736,267h1v1h-1zM832,267h1v1h-1zM540,268h1v1h-1zM688,268h1v1h-1zM737,268h1v1h-1zM831,268h1v1h-1zM541,269h1v1h-1zM687,269h1v1h-1zM737,269h1v1h-1zM831,269h1v1h-1zM541,270h1v1h-1zM686,270h1v1h-1zM738,270h1v1h-1zM830,270h1v1h-1zM542,271h1v1h-1zM686,271h1v1h-1zM738,271h1v1h-1zM830,271h1v1h-1zM542,272h1v1h-1zM685,272h1v1h-1zM739,272h1v1h-1zM829,272h1v1h-1zM543,273h1v1h-1zM684,273h1v1h-1zM739,273h1v1h-1zM829,273h1v1h-1zM543,274h1v1h-1zM683,274h1v1h-1zM740,274h1v1h-1zM828,274h1v1h-1zM544,275h1v1h-1zM683,275h1v1h-1zM740,275h1v1h-1zM827,275h1v1h-1zM544,276h1v1h-1zM682,276h1v1h-1zM740,276h1v1h-1zM827,276h1v1h-1zM545,277h1v1h-1zM681,277h1v1h-1zM741,277h1v1h-1zM826,277h1v1h-1zM545,278h1v1h-1zM681,278h1v1h-1zM741,278h1v1h-1zM826,278h1v1h-1zM546,279h1v1h-1zM680,279h1v1h-1zM741,279h1v1h-1zM825,279h1v1h-1zM546,280h1v1h-1zM679,280h1v1h-1zM742,280h1v1h-1zM824,280h1v1h-1zM547,281h1v1h-1zM679,281h1v1h-1zM742,281h1v1h-1zM824,281h1v1h-1zM547,282h1v1h-1zM678,282h1v1h-1zM742,282h1v1h-1zM823,282h1v1h-1zM548,283h1v1h-1zM677,283h1v1h-1zM743,283h1v1h-1zM822,283h1v1h-1zM548,284h1v1h-1zM677,284h1v1h-1zM743,284h1v1h-1zM822,284h1v1h-1zM548,285h1v1h-1zM676,285h1v1h-1zM743,285h1v1h-1zM821,285h1v1h-1zM549,286h1v1h-1zM675,286h1v1h-1zM744,286h1v1h-1zM821,286h1v1h-1zM549,287h1v1h-1zM675,287h1v1h-1zM744,287h1v1h-1zM820,287h1v1h-1zM549,288h1v1h-1zM674,288h1v1h-1zM744,288h1v1h-1zM820,288h1v1h-1zM550,289h1v1h-1zM674,289h1v1h-1zM745,289h1v1h-1zM819,289h1v1h-1zM550,290h1v1h-1zM673,290h1v1h-1zM745,290h1v1h-1zM819,290h1v1h-1zM550,291h1v1h-1zM673,291h1v1h-1zM745,291h1v1h-1zM818,291h1v1h-1zM551,292h1v1h-1zM672,292h1v1h-1zM746,292h1v1h-1zM818,292h1v1h-1zM551,293h1v1h-1zM671,293h1v1h-1zM746,293h1v1h-1zM817,293h1v1h-1zM551,294h1v1h-1zM671,294h1v1h-1zM746,294h1v1h-1zM817,294h1v1h-1zM552,295h1v1h-1zM670,295h1v1h-1zM747,295h1v1h-1zM817,295h1v1h-1zM552,296h1v1h-1zM670,296h1v1h-1zM747,296h1v1h-1zM816,296h1v1h-1zM553,297h1v1h-1zM669,297h1v1h-1zM747,297h1v1h-1zM816,297h1v1h-1zM553,298h1v1h-1zM669,298h1v1h-1zM748,298h1v1h-1zM815,298h1v1h-1zM553,299h1v1h-1zM667,299h2v1h-2zM748,299h1v1h-1zM815,299h1v1h-1zM554,300h1v1h-1zM665,300h2v1h-2zM748,300h1v1h-1zM815,300h1v1h-1zM554,301h1v1h-1zM663,301h2v1h-2zM749,301h1v1h-1zM814,301h1v1h-1zM554,302h1v1h-1zM661,302h2v1h-2zM749,302h1v1h-1zM814,302h1v1h-1zM555,303h1v1h-1zM660,303h1v1h-1zM750,303h1v1h-1zM813,303h1v1h-1zM555,304h1v1h-1zM658,304h2v1h-2zM750,304h1v1h-1zM813,304h1v1h-1zM555,305h1v1h-1zM656,305h2v1h-2zM751,305h1v1h-1zM812,305h1v1h-1zM556,306h1v1h-1zM655,306h1v1h-1zM751,306h1v1h-1zM812,306h1v1h-1zM556,307h1v1h-1zM634,307h14v1h-14zM653,307h2v1h-2zM752,307h1v1h-1zM812,307h1v1h-1zM557,308h1v1h-1zM630,308h4v1h-4zM648,308h5v1h-5zM752,308h1v1h-1zM811,308h1v1h-1zM557,309h1v1h-1zM628,309h2v1h-2zM752,309h1v1h-1zM811,309h1v1h-1zM558,310h1v1h-1zM627,310h1v1h-1zM753,310h1v1h-1zM810,310h1v1h-1zM558,311h1v1h-1zM626,311h1v1h-1zM753,311h1v1h-1zM810,311h1v1h-1zM559,312h1v1h-1zM625,312h1v1h-1zM754,312h1v1h-1zM809,312h1v1h-1zM559,313h1v1h-1zM624,313h1v1h-1zM754,313h1v1h-1zM809,313h1v1h-1zM560,314h1v1h-1zM624,314h1v1h-1zM755,314h1v1h-1zM808,314h1v1h-1zM560,315h1v1h-1zM623,315h1v1h-1zM755,315h1v1h-1zM808,315h1v1h-1zM561,316h1v1h-1zM622,316h1v1h-1zM756,316h1v1h-1zM808,316h1v1h-1zM561,317h1v1h-1zM621,317h1v1h-1zM756,317h1v1h-1zM807,317h1v1h-1zM562,318h1v1h-1zM620,318h1v1h-1zM756,318h1v1h-1zM807,318h1v1h-1zM562,319h1v1h-1zM619,319h1v1h-1zM757,319h1v1h-1zM806,319h1v1h-1zM563,320h1v1h-1zM618,320h1v1h-1zM757,320h1v1h-1zM806,320h1v1h-1zM563,321h1v1h-1zM616,321h2v1h-2zM758,321h1v1h-1zM805,321h1v1h-1zM564,322h1v1h-1zM615,322h1v1h-1zM758,322h1v1h-1zM805,322h1v1h-1zM565,323h2v1h-2zM614,323h1v1h-1zM759,323h1v1h-1zM804,323h1v1h-1zM567,324h1v1h-1zM613,324h1v1h-1zM759,324h1v1h-1zM804,324h1v1h-1zM568,325h2v1h-2zM611,325h2v1h-2zM760,325h1v1h-1zM803,325h1v1h-1zM570,326h2v1h-2zM609,326h2v1h-2zM760,326h1v1h-1zM803,326h1v1h-1zM572,327h1v1h-1zM607,327h2v1h-2zM761,327h1v1h-1zM802,327h1v1h-1zM573,328h1v1h-1zM605,328h2v1h-2zM761,328h1v1h-1zM802,328h1v1h-1zM574,329h1v1h-1zM604,329h1v1h-1zM762,329h1v1h-1zM801,329h1v1h-1zM574,330h1v1h-1zM603,330h1v1h-1zM762,330h1v1h-1zM800,330h1v1h-1zM575,331h1v1h-1zM602,331h1v1h-1zM763,331h1v1h-1zM800,331h1v1h-1zM576,332h1v1h-1zM601,332h1v1h-1zM763,332h1v1h-1zM799,332h1v1h-1zM577,333h1v1h-1zM600,333h1v1h-1zM764,333h1v1h-1zM798,333h1v1h-1zM578,334h1v1h-1zM599,334h1v1h-1zM764,334h1v1h-1zM798,334h1v1h-1zM578,335h1v1h-1zM598,335h1v1h-1zM765,335h1v1h-1zM797,335h1v1h-1zM579,336h1v1h-1zM597,336h1v1h-1zM765,336h1v1h-1zM797,336h1v1h-1zM580,337h1v1h-1zM595,337h2v1h-2zM766,337h1v1h-1zM796,337h1v1h-1zM581,338h2v1h-2zM593,338h2v1h-2zM766,338h1v1h-1zM795,338h1v1h-1zM583,339h2v1h-2zM591,339h2v1h-2zM767,339h1v1h-1zM794,339h1v1h-1zM585,340h2v1h-2zM589,340h2v1h-2zM768,340h1v1h-1zM793,340h1v1h-1zM587,341h2v1h-2zM768,341h1v1h-1zM792,341h1v1h-1zM769,342h1v1h-1zM792,342h1v1h-1zM770,343h1v1h-1zM791,343h1v1h-1zM770,344h1v1h-1zM790,344h1v1h-1zM771,345h1v1h-1zM789,345h1v1h-1zM771,346h1v1h-1zM788,346h1v1h-1zM772,347h1v1h-1zM787,347h1v1h-1zM773,348h1v1h-1zM786,348h1v1h-1zM774,349h1v1h-1zM785,349h1v1h-1zM775,350h1v1h-1zM784,350h1v1h-1zM776,351h2v1h-2zM783,351h1v1h-1zM778,352h1v1h-1zM782,352h1v1h-1zM779,353h1v1h-1zM781,353h1v1h-1zM780,354h1v1h-1z" fill="#0000cd"/>
<rect x="4" y="68" width="1" height="37" fill="#ff0000"/>
<rect x="12" y="95" width="1" height="23" fill="#32cd32"/>
<rect x="10" y="100" width="5" height="10" fill="#32cd32"/>
<rect x="20" y="113" width="1" height="29" fill="#32cd32"/>
<rect x="18" y="113" width="5" height="16" fill="#32cd32"/>
<rect x="28" y="122" width="1" height="36" fill="#32cd32"/>
<rect x="26" y="128" width="5" height="21" fill="#32cd32"/>
<rect x="36" y="147" width="1" height="23" fill="#32cd32"/>
<rect x="34" y="147" width="5" height="21" fill="#32cd32"/>
<rect x="44" y="136" width="1" height="30" fill="#32cd32"/>
<rect x="42" y="144" width="5" height="13" fill="#32cd32"/>
<rect x="52" y="145" width="1" height="36" fill="#32cd32"/>
<rect x="50" y="156" width="5" height="14" fill="#32cd32"/>
<rect x="60" y="150" width="1" height="63" fill="#32cd32"/>
<rect x="58" y="169" width="5" height="41" fill="#32cd32"/>
<rect x="68" y="186" width="1" height="29" fill="#ff0000"/>
<rect x="66" y="205" width="5" height="5" fill="#ff0000"/>
<rect x="67" y="206" width="3" height="3" fill="#ff4500"/>
<rect x="76" y="187" width="1" height="44" fill="#ff0000"/>
<rect x="74" y="197" width="5" height="8" fill="#ff0000"/>
<rect x="75" y="198" width="3" height="6" fill="#ff4500"/>
<rect x="84" y="186" width="1" height="13" fill="#ff0000"/>
<rect x="82" y="190" width="5" height="7" fill="#ff0000"/>
<rect x="83" y="191" width="3" height="5" fill="#ff4500"/>
<rect x="92" y="173" width="1" height="37" fill="#ff0000"/>
<rect x="90" y="182" width="5" height="17" fill="#ff0000"/>
<rect x="91" y="183" width="3" height="15" fill="#ff4500"/>
<rect x="100" y="150" width="1" height="37" fill="#ff0000"/>
<rect x="98" y="159" width="5" height="24" fill="#ff0000"/>
<rect x="99" y="160" width="3" height="22" fill="#ff4500"/>
<rect x="108" y="152" width="1" height="38" fill="#ff0000"/>
<rect x="106" y="155" width="5" height="5" fill="#ff0000"/>
<rect x="107" y="156" width="3" height="3" fill="#ff4500"/>
<rect x="116" y="144" width="1" height="53" fill="#32cd32"/>
<rect x="114" y="155" width="5" height="24" fill="#32cd32"/>
<rect x="124" y="145" width="1" height="40" fill="#ff0000"/>
<rect x="122" y="152" width="5" height="27" fill="#ff0000"/>
<rect x="123" y="153" width="3" height="25" fill="#ff4500"/>
<rect x="132" y="151" width="1" height="9" fill="#32cd32"/>
<rect x="130" y="151" width="5" height="5" fill="#32cd32"/>
<rect x="140" y="124" width="1" height="39" fill="#ff0000"/>
<rect x="138" y="143" width="5" height="17" fill="#ff0000"/>
<rect x="139" y="144" width="3" height="15" fill="#ff4500"/>
<rect x="148" y="132" width="1" height="21" fill="#ff0000"/>
<rect x="146" y="141" width="5" height="3" fill="#ff0000"/>
<rect x="147" y="142" width="3" height="1" fill="#ff4500"/>
<rect x="156" y="139" width="1" height="44" fill="#32cd32"/>
<rect x="154" y="140" width="5" height="15" fill="#32cd32"/>
<rect x="164" y="113" width="1" height="48" fill="#ff0000"/>
<rect x="162" y="133" width="5" height="22" fill="#ff0000"/>
<rect x="163" y="134" width="3" height="20" fill="#ff4500"/>
<rect x="172" y="127" width="1" height="38" fill="#32cd32"/>
<rect x="170" y="133" width="5" height="20" fill="#32cd32"/>
<rect x="180" y="149" width="1" height="16" fill="#32cd32"/>
<rect x="178" y="151" width="5" height="8" fill="#32cd32"/>
<rect x="188" y="127" width="1" height="48" fill="#ff0000"/>
<rect x="186" y="130" width="5" height="34" fill="#ff0000"/>
<rect x="187" y="131" width="3" height="32" fill="#ff4500"/>
<rect x="196" y="100" width="1" height="38" fill="#ff0000"/>
<rect x="194" y="112" width="5" height="19" fill="#ff0000"/>
<rect x="195" y="113" width="3" height="17" fill="#ff4500"/>
<rect x="204" y="100" width="1" height="71" fill="#32cd32"/>
<rect x="202" y="112" width="5" height="58" fill="#32cd32"/>
<rect x="212" y="137" width="1" height="35" fill="#ff0000"/>
<rect x="210" y="162" width="5" height="8" fill="#ff0000"/>
<rect x="211" y="163" width="3" height="6" fill="#ff4500"/>
<rect x="220" y="138" width="1" height="38" fill="#ff0000"/>
<rect x="218" y="139" width="5" height="23" fill="#ff0000"/>
<rect x="219" y="140" width="3" height="21" fill="#ff4500"/>
<rect x="228" y="138" width="1" height="12" fill="#32cd32"/>
<rect x="226" y="139" width="5" height="5" fill="#32cd32"/>
<rect x="236" y="113" width="1" height="27" fill="#ff0000"/>
<rect x="234" y="127" width="5" height="11" fill="#ff0000"/>
<rect x="235" y="128" width="3" height="9" fill="#ff4500"/>
<rect x="244" y="116" width="1" height="70" fill="#32cd32"/>
<rect x="242" y="127" width="5" height="55" fill="#32cd32"/>
<rect x="252" y="118" width="1" height="67" fill="#ff0000"/>
<rect x="250" y="120" width="5" height="62" fill="#ff0000"/>
<rect x="251" y="121" width="3" height="60" fill="#ff4500"/>
<rect x="260" y="115" width="1" height="30" fill="#32cd32"/>
<rect x="258" y="120" width="5" height="12" fill="#32cd32"/>
<rect x="268" y="113" width="1" height="37" fill="#32cd32"/>
<rect x="266" y="131" width="5" height="14" fill="#32cd32"/>
<rect x="276" y="139" width="1" height="9" fill="#ff0000"/>
<rect x="274" y="139" width="5" height="6" fill="#ff0000"/>
<rect x="275" y="140" width="3" height="4" fill="#ff4500"/>
<rect x="284" y="117" width="1" height="38" fill="#ff0000"/>
<rect x="282" y="121" width="5" height="18" fill="#ff0000"/>
<rect x="283" y="122" width="3" height="16" fill="#ff4500"/>
<rect x="292" y="95" width="1" height="31" fill="#ff0000"/>
<rect x="290" y="116" width="5" height="6" fill="#ff0000"/>
<rect x="291" y="117" width="3" height="4" fill="#ff4500"/>
<rect x="300" y="87" width="1" height="48" fill="#ff0000"/>
<rect x="298" y="90" width="5" height="27" fill="#ff0000"/>
<rect x="299" y="91" width="3" height="25" fill="#ff4500"/>
<rect x="308" y="74" width="1" height="46" fill="#32cd32"/>
<rect x="306" y="90" width="5" height="28" fill="#32cd32"/>
<rect x="316" y="58" width="1" height="71" fill="#ff0000"/>
<rect x="314" y="73" width="5" height="45" fill="#ff0000"/>
<rect x="315" y="74" width="3" height="43" fill="#ff4500"/>
<rect x="324" y="69" width="1" height="8" fill="#32cd32"/>
<rect x="322" y="73" width="5" height="4" fill="#32cd32"/>
<rect x="332" y="67" width="1" height="18" fill="#ff0000"/>
<rect x="330" y="71" width="5" height="6" fill="#ff0000"/>
<rect x="331" y="72" width="3" height="4" fill="#ff4500"/>
<rect x="340" y="68" width="1" height="39" fill="#32cd32"/>
<rect x="338" y="71" width="5" height="6" fill="#32cd32"/>
<rect x="348" y="46" width="1" height="49" fill="#32cd32"/>
<rect x="346" y="76" width="5" height="6" fill="#32cd32"/>
<rect x="356" y="52" width="1" height="50" fill="#32cd32"/>
<rect x="354" y="81" width="5" height="18" fill="#32cd32"/>
<rect x="364" y="96" width="1" height="14" fill="#32cd32"/>
<rect x="362" y="98" width="5" height="3" fill="#32cd32"/>
<rect x="372" y="96" width="1" height="7" fill="#ff0000"/>
<rect x="370" y="98" width="5" height="5" fill="#ff0000"/>
<rect x="371" y="99" width="3" height="3" fill="#ff4500"/>
<rect x="380" y="96" width="1" height="21" fill="#32cd32"/>
<rect x="378" y="98" width="5" height="14" fill="#32cd32"/>
<rect x="388" y="106" width="1" height="55" fill="#32cd32"/>
<rect x="386" y="112" width="5" height="35" fill="#32cd32"/>
<rect x="396" y="140" width="1" height="74" fill="#32cd32"/>
<rect x="394" y="146" width="5" height="65" fill="#32cd32"/>
<rect x="404" y="209" width="1" height="36" fill="#32cd32"/>
<rect x="402" y="210" width="5" height="16" fill="#32cd32"/>
<rect x="412" y="178" width="1" height="50" fill="#ff0000"/>
<rect x="410" y="193" width="5" height="33" fill="#ff0000"/>
<rect x="411" y="194" width="3" height="31" fill="#ff4500"/>
<rect x="420" y="191" width="1" height="9" fill="#32cd32"/>
<rect x="418" y="194" width="5" height="3" fill="#32cd32"/>
<rect x="428" y="178" width="1" height="20" fill="#ff0000"/>
<rect x="426" y="185" width="5" height="9" fill="#ff0000"/>
<rect x="427" y="186" width="3" height="7" fill="#ff4500"/>
<rect x="436" y="171" width="1" height="35" fill="#32cd32"/>
<rect x="434" y="185" width="5" height="13" fill="#32cd32"/>
<rect x="444" y="178" width="1" height="24" fill="#32cd32"/>
<rect x="442" y="197" width="5" height="3" fill="#32cd32"/>
<rect x="452" y="184" width="1" height="55" fill="#32cd32"/>
<rect x="450" y="199" width="5" height="34" fill="#32cd32"/>
<rect x="460" y="211" width="1" height="37" fill="#ff0000"/>
<rect x="458" y="217" width="5" height="15" fill="#ff0000"/>
<rect x="459" y="218" width="3" height="13" fill="#ff4500"/>
<rect x="468" y="213" width="1" height="8" fill="#32cd32"/>
<rect x="466" y="217" width="5" height="3" fill="#32cd32"/>
<rect x="476" y="233" width="1" height="35" fill="#32cd32"/>
<rect x="474" y="237" width="5" height="1" fill="#32cd32"/>
<rect x="484" y="189" width="1" height="62" fill="#ff0000"/>
<rect x="482" y="230" width="5" height="8" fill="#ff0000"/>
<rect x="483" y="231" width="3" height="6" fill="#ff4500"/>
<rect x="492" y="209" width="1" height="30" fill="#32cd32"/>
<rect x="490" y="230" width="5" height="1" fill="#32cd32"/>
<rect x="500" y="229" width="1" height="37" fill="#32cd32"/>
<rect x="498" y="230" width="5" height="27" fill="#32cd32"/>
<rect x="508" y="216" width="1" height="41" fill="#ff0000"/>
<rect x="506" y="236" width="5" height="20" fill="#ff0000"/>
<rect x="507" y="237" width="3" height="18" fill="#ff4500"/>
<rect x="516" y="231" width="1" height="9" fill="#ff0000"/>
<rect x="514" y="236" width="5" height="1" fill="#ff0000"/>
<rect x="524" y="241" width="1" height="44" fill="#32cd32"/>
<rect x="522" y="243" width="5" height="38" fill="#32cd32"/>
<rect x="532" y="270" width="1" height="24" fill="#32cd32"/>
<rect x="530" y="281" width="5" height="3" fill="#32cd32"/>
<rect x="540" y="278" width="1" height="34" fill="#32cd32"/>
<rect x="538" y="283" width="5" height="17" fill="#32cd32"/>
<rect x="548" y="294" width="1" height="38" fill="#32cd32"/>
<rect x="546" y="298" width="5" height="23" fill="#32cd32"/>
<rect x="556" y="318" width="1" height="34" fill="#32cd32"/>
<rect x="554" y="320" width="5" height="30" fill="#32cd32"/>
<rect x="564" y="346" width="1" height="8" fill="#32cd32"/>
<rect x="562" y="349" width="5" height="4" fill="#32cd32"/>
<rect x="572" y="293" width="1" height="41" fill="#ff0000"/>
<rect x="570" y="313" width="5" height="20" fill="#ff0000"/>
<rect x="571" y="314" width="3" height="18" fill="#ff4500"/>
<rect x="580" y="298" width="1" height="54" fill="#32cd32"/>
<rect x="578" y="313" width="5" height="34" fill="#32cd32"/>
<rect x="588" y="327" width="1" height="24" fill="#ff0000"/>
<rect x="586" y="344" width="5" height="3" fill="#ff0000"/>
<rect x="587" y="345" width="3" height="1" fill="#ff4500"/>
<rect x="596" y="326" width="1" height="26" fill="#ff0000"/>
<rect x="594" y="328" width="5" height="17" fill="#ff0000"/>
<rect x="595" y="329" width="3" height="15" fill="#ff4500"/>
<rect x="604" y="304" width="1" height="26" fill="#ff0000"/>
<rect x="602" y="312" width="5" height="16" fill="#ff0000"/>
<rect x="603" y="313" width="3" height="14" fill="#ff4500"/>
<rect x="612" y="296" width="1" height="18" fill="#ff0000"/>
<rect x="610" y="296" width="5" height="18" fill="#ff0000"/>
<rect x="611" y="297" width="3" height="16" fill="#ff4500"/>
<rect x="620" y="289" width="1" height="23" fill="#32cd32"/>
<rect x="618" y="297" width="5" height="15" fill="#32cd32"/>
<rect x="628" y="292" width="1" height="20" fill="#ff0000"/>
<rect x="626" y="297" width="5" height="13" fill="#ff0000"/>
<rect x="627" y="298" width="3" height="11" fill="#ff4500"/>
<rect x="636" y="296" width="1" height="26" fill="#32cd32"/>
<rect x="634" y="297" width="5" height="19" fill="#32cd32"/>
<rect x="644" y="291" width="1" height="35" fill="#32cd32"/>
<rect x="642" y="315" width="5" height="1" fill="#32cd32"/>
<rect x="652" y="285" width="1" height="39" fill="#ff0000"/>
<rect x="650" y="298" width="5" height="18" fill="#ff0000"/>
<rect x="651" y="299" width="3" height="16" fill="#ff4500"/>
<rect x="660" y="284" width="1" height="15" fill="#ff0000"/>
<rect x="658" y="289" width="5" height="10" fill="#ff0000"/>
<rect x="659" y="290" width="3" height="8" fill="#ff4500"/>
<rect x="668" y="264" width="1" height="36" fill="#ff0000"/>
<rect x="666" y="275" width="5" height="21" fill="#ff0000"/>
<rect x="667" y="276" width="3" height="19" fill="#ff4500"/>
<rect x="676" y="240" width="1" height="39" fill="#ff0000"/>
<rect x="674" y="245" width="5" height="31" fill="#ff0000"/>
<rect x="675" y="246" width="3" height="29" fill="#ff4500"/>
<rect x="684" y="226" width="1" height="34" fill="#32cd32"/>
<rect x="682" y="245" width="5" height="13" fill="#32cd32"/>
<rect x="692" y="238" width="1" height="30" fill="#ff0000"/>
<rect x="690" y="248" width="5" height="11" fill="#ff0000"/>
<rect x="691" y="249" width="3" height="9" fill="#ff4500"/>
<rect x="700" y="213" width="1" height="53" fill="#ff0000"/>
<rect x="698" y="231" width="5" height="18" fill="#ff0000"/>
<rect x="699" y="232" width="3" height="16" fill="#ff4500"/>
<rect x="708" y="225" width="1" height="9" fill="#ff0000"/>
<rect x="706" y="230" width="5" height="2" fill="#ff0000"/>
<rect x="716" y="234" width="1" height="37" fill="#32cd32"/>
<rect x="714" y="238" width="5" height="28" fill="#32cd32"/>
<rect x="724" y="264" width="1" height="18" fill="#32cd32"/>
<rect x="722" y="268" width="5" height="7" fill="#32cd32"/>
<rect x="732" y="264" width="1" height="23" fill="#32cd32"/>
<rect x="730" y="274" width="5" height="13" fill="#32cd32"/>
<rect x="740" y="284" width="1" height="40" fill="#32cd32"/>
<rect x="738" y="286" width="5" height="31" fill="#32cd32"/>
<rect x="748" y="307" width="1" height="46" fill="#32cd32"/>
<rect x="746" y="316" width="5" height="35" fill="#32cd32"/>
<rect x="756" y="350" width="1" height="11" fill="#32cd32"/>
<rect x="754" y="350" width="5" height="4" fill="#32cd32"/>
<rect x="764" y="338" width="1" height="33" fill="#32cd32"/>
<rect x="762" y="348" width="5" height="14" fill="#32cd32"/>
<rect x="772" y="344" width="1" height="43" fill="#ff0000"/>
<rect x="770" y="351" width="5" height="11" fill="#ff0000"/>
<rect x="771" y="352" width="3" height="9" fill="#ff4500"/>
<rect x="780" y="337" width="1" height="29" fill="#32cd32"/>
<rect x="778" y="352" width="5" height="2" fill="#32cd32"/>
<rect x="788" y="292" width="1" height="61" fill="#ff0000"/>
<rect x="786" y="310" width="5" height="42" fill="#ff0000"/>
<rect x="787" y="311" width="3" height="40" fill="#ff4500"/>
<rect x="796" y="290" width="1" height="32" fill="#ff0000"/>
<rect x="794" y="306" width="5" height="4" fill="#ff0000"/>
<rect x="795" y="307" width="3" height="2" fill="#ff4500"/>
<rect x="804" y="294" width="1" height="14" fill="#ff0000"/>
<rect x="802" y="300" width="5" height="7" fill="#ff0000"/>
<rect x="803" y="301" width="3" height="5" fill="#ff4500"/>
<rect x="812" y="262" width="1" height="33" fill="#ff0000"/>
<rect x="810" y="262" width="5" height="33" fill="#ff0000"/>
<rect x="811" y="263" width="3" height="31" fill="#ff4500"/>
<rect x="820" y="256" width="1" height="21" fill="#ff0000"/>
<rect x="818" y="257" width="5" height="11" fill="#ff0000"/>
<rect x="819" y="258" width="3" height="9" fill="#ff4500"/>
<rect x="828" y="238" width="1" height="50" fill="#ff0000"/>
<rect x="826" y="244" width="5" height="14" fill="#ff0000"/>
<rect x="827" y="245" width="3" height="12" fill="#ff4500"/>
<rect x="836" y="227" width="1" height="23" fill="#ff0000"/>
<rect x="834" y="236" width="5" height="8" fill="#ff0000"/>
<rect x="835" y="237" width="3" height="6" fill="#ff4500"/>
<rect x="844" y="216" width="1" height="21" fill="#ff0000"/>
<rect x="842" y="225" width="5" height="11" fill="#ff0000"/>
<rect x="843" y="226" width="3" height="9" fill="#ff4500"/>
<rect x="852" y="215" width="1" height="12" fill="#ff0000"/>
<rect x="850" y="215" width="5" height="12" fill="#ff0000"/>
<rect x="851" y="216" width="3" height="10" fill="#ff4500"/>
<rect x="860" y="205" width="1" height="63" fill="#32cd32"/>
<rect x="858" y="206" width="5" height="61" fill="#32cd32"/>
<rect x="868" y="233" width="1" height="41" fill="#ff0000"/>
<rect x="866" y="241" width="5" height="26" fill="#ff0000"/>
<rect x="867" y="242" width="3" height="24" fill="#ff4500"/>
<rect x="876" y="198" width="1" height="50" fill="#ff0000"/>
<rect x="874" y="203" width="5" height="39" fill="#ff0000"/>
<rect x="875" y="204" width="3" height="37" fill="#ff4500"/>
<rect x="884" y="190" width="1" height="30" fill="#32cd32"/>
<rect x="882" y="204" width="5" height="13" fill="#32cd32"/>
<rect x="892" y="207" width="1" height="66" fill="#32cd32"/>
<rect x="890" y="216" width="5" height="48" fill="#32cd32"/>
<rect x="900" y="252" width="1" height="12" fill="#ff0000"/>
<rect x="898" y="252" width="5" height="12" fill="#ff0000"/>
<rect x="899" y="253" width="3" height="10" fill="#ff4500"/>
<rect x="908" y="239" width="1" height="25" fill="#32cd32"/>
<rect x="906" y="250" width="5" height="14" fill="#32cd32"/>
<rect x="916" y="256" width="1" height="8" fill="#ff0000"/>
<rect x="914" y="258" width="5" height="6" fill="#ff0000"/>
<rect x="915" y="259" width="3" height="4" fill="#ff4500"/>
<rect x="699" y="179" width="249" height="5" fill="#fc3a3a"/>
<rect x="698" y="266" width="248" height="4" fill="#99cc00"/>
<rect x="554" y="352" width="397" height="5" fill="#3759d3"/>
</g>
<clipPath id="cmacd"><rect x="4" y="399" width="1162" height="62"/></clipPath>
<g clip-path="url(#cmacd)">
<rect x="3" y="418" width="3" height="1" fill="#c0c0c0"/>
<rect x="11" y="418" width="3" height="1" fill="#c0c0c0"/>
<rect x="19" y="418" width="3" height="3" fill="#c0c0c0"/>
<rect x="27" y="418" width="3" height="5.600000000000023" fill="#c0c0c0"/>
<rect x="35" y="418" width="3" height="8.899999999999977" fill="#c0c0c0"/>
<rect x="43" y="418" width="3" height="10.800000000000011" fill="#c0c0c0"/>
<rect x="51" y="418" width="3" height="12.699999999999989" fill="#c0c0c0"/>
<rect x="59" y="418" width="3" height="16.899999999999977" fill="#c0c0c0"/>
<rect x="67" y="418" width="3" height="19.80000000000001" fill="#c0c0c0"/>
<rect x="75" y="418" width="3" height="20.899999999999977" fill="#c0c0c0"/>
<rect x="83" y="418" width="3" height="21.80000000000001" fill="#c0c0c0"/>
<rect x="91" y="418" width="3" height="20.899999999999977" fill="#c0c0c0"/>
<rect x="99" y="418" width="3" height="18.80000000000001" fill="#c0c0c0"/>
<rect x="107" y="418" width="3" height="16.69999999999999" fill="#c0c0c0"/>
<rect x="115" y="418" width="3" height="16.399999999999977" fill="#c0c0c0"/>
<rect x="123" y="418" width="3" height="14.699999999999989" fill="#c0c0c0"/>
<rect x="131" y="418" width="3" height="12.600000000000023" fill="#c0c0c0"/>
<rect x="139" y="418" width="3" height="10.600000000000023" fill="#c0c0c0"/>
<rect x="147" y="418" width="3" height="8.399999999999977" fill="#c0c0c0"/>
<rect x="155" y="418" width="3" height="7.600000000000023" fill="#c0c0c0"/>
<rect x="163" y="418" width="3" height="5.600000000000023" fill="#c0c0c0"/>
<rect x="171" y="418" width="3" height="4.800000000000011" fill="#c0c0c0"/>
<rect x="179" y="418" width="3" height="4.800000000000011" fill="#c0c0c0"/>
<rect x="187" y="418" width="3" height="2.8000000000000114" fill="#c0c0c0"/>
<rect x="195" y="418" width="3" height="1" fill="#c0c0c0"/>
<rect x="203" y="418" width="3" height="2" fill="#c0c0c0"/>
<rect x="211" y="418" width="3" height="2.8000000000000114" fill="#c0c0c0"/>
<rect x="219" y="418" width="3" height="2" fill="#c0c0c0"/>
<rect x="227" y="418" width="3" height="2.3000000000000114" fill="#c0c0c0"/>
<rect x="235" y="418" width="3" height="1" fill="#c0c0c0"/>
<rect x="243" y="418" width="3" height="2.8000000000000114" fill="#c0c0c0"/>
<rect x="251" y="418" width="3" height="1.5" fill="#c0c0c0"/>
<rect x="259" y="417" width="3" height="1" fill="#c0c0c0"/>
<rect x="267" y="417" width="3" height="1" fill="#c0c0c0"/>
<rect x="275" y="417" width="3" height="1" fill="#c0c0c0"/>
<rect x="283" y="414.5" width="3" height="3.5" fill="#c0c0c0"/>
<rect x="291" y="414" width="3" height="4" fill="#c0c0c0"/>
<rect x="299" y="410.9" width="3" height="7.100000000000023" fill="#c0c0c0"/>
<rect x="307" y="410.9" width="3" height="7.100000000000023" fill="#c0c0c0"/>
<rect x="315" y="407.9" width="3" height="10.100000000000023" fill="#c0c0c0"/>
<rect x="323" y="405.1" width="3" height="12.899999999999977" fill="#c0c0c0"/>
<rect x="331" y="404.1" width="3" height="13.899999999999977" fill="#c0c0c0"/>
<rect x="339" y="403" width="3" height="15" fill="#c0c0c0"/>
<rect x="347" y="402.1" width="3" height="15.899999999999977" fill="#c0c0c0"/>
<rect x="355" y="403" width="3" height="15" fill="#c0c0c0"/>
<rect x="363" y="405.1" width="3" height="12.899999999999977" fill="#c0c0c0"/>
<rect x="371" y="405.4" width="3" height="12.600000000000023" fill="#c0c0c0"/>
<rect x="379" y="407.1" width="3" height="10.899999999999977" fill="#c0c0c0"/>
<rect x="387" y="410.9" width="3" height="7.100000000000023" fill="#c0c0c0"/>
<rect x="395" y="418" width="3" height="1.8000000000000114" fill="#c0c0c0"/>
<rect x="403" y="418" width="3" height="8.899999999999977" fill="#c0c0c0"/>
<rect x="411" y="418" width="3" height="11.699999999999989" fill="#c0c0c0"/>
<rect x="419" y="418" width="3" height="13.899999999999977" fill="#c0c0c0"/>
<rect x="427" y="418" width="3" height="15" fill="#c0c0c0"/>
<rect x="435" y="418" width="3" height="16.69999999999999" fill="#c0c0c0"/>
<rect x="443" y="418" width="3" height="17.69999999999999" fill="#c0c0c0"/>
<rect x="451" y="418" width="3" height="20.5" fill="#c0c0c0"/>
<rect x="459" y="418" width="3" height="21.80000000000001" fill="#c0c0c0"/>
<rect x="467" y="418" width="3" height="23" fill="#c0c0c0"/>
<rect x="475" y="418" width="3" height="23.80000000000001" fill="#c0c0c0"/>
<rect x="483" y="418" width="3" height="24.80000000000001" fill="#c0c0c0"/>
<rect x="491" y="418" width="3" height="24.600000000000023" fill="#c0c0c0"/>
<rect x="499" y="418" width="3" height="25.80000000000001" fill="#c0c0c0"/>
<rect x="507" y="418" width="3" height="25.80000000000001" fill="#c0c0c0"/>
<rect x="515" y="418" width="3" height="24.600000000000023" fill="#c0c0c0"/>
<rect x="523" y="418" width="3" height="27.899999999999977" fill="#c0c0c0"/>
<rect x="531" y="418" width="3" height="28.80000000000001" fill="#c0c0c0"/>
<rect x="539" y="418" width="3" height="30.899999999999977" fill="#c0c0c0"/>
<rect x="547" y="418" width="3" height="33.69999999999999" fill="#c0c0c0"/>
<rect x="555" y="418" width="3" height="37.89999999999998" fill="#c0c0c0"/>
<rect x="563" y="418" width="3" height="40.80000000000001" fill="#c0c0c0"/>
<rect x="571" y="418" width="3" height="39.80000000000001" fill="#c0c0c0"/>
<rect x="579" y="418" width="3" height="40.80000000000001" fill="#c0c0c0"/>
<rect x="587" y="418" width="3" height="40.80000000000001" fill="#c0c0c0"/>
<rect x="595" y="418" width="3" height="38.69999999999999" fill="#c0c0c0"/>
<rect x="603" y="418" width="3" height="37" fill="#c0c0c0"/>
<rect x="611" y="418" width="3" height="32.89999999999998" fill="#c0c0c0"/>
<rect x="619" y="418" width="3" height="30.69999999999999" fill="#c0c0c0"/>
<rect x="627" y="418" width="3" height="27.899999999999977" fill="#c0c0c0"/>
<rect x="635" y="418" width="3" height="26.80000000000001" fill="#c0c0c0"/>
<rect x="643" y="418" width="3" height="24.600000000000023" fill="#c0c0c0"/>
<rect x="651" y="418" width="3" height="22.600000000000023" fill="#c0c0c0"/>
<rect x="659" y="418" width="3" height="19.69999999999999" fill="#c0c0c0"/>
<rect x="667" y="418" width="3" height="15.5" fill="#c0c0c0"/>
<rect x="675" y="418" width="3" height="11.399999999999977" fill="#c0c0c0"/>
<rect x="683" y="418" width="3" height="7.600000000000023" fill="#c0c0c0"/>
<rect x="691" y="418" width="3" height="4.800000000000011" fill="#c0c0c0"/>
<rect x="699" y="418" width="3" height="2" fill="#c0c0c0"/>
<rect x="707" y="416.2" width="3" height="1.8000000000000114" fill="#c0c0c0"/>
<rect x="715" y="416.2" width="3" height="1.8000000000000114" fill="#c0c0c0"/>
<rect x="723" y="416.2" width="3" height="1.8000000000000114" fill="#c0c0c0"/>
<rect x="731" y="418" width="3" height="1" fill="#c0c0c0"/>
<rect x="739" y="418" width="3" height="3" fill="#c0c0c0"/>
<rect x="747" y="418" width="3" height="8.899999999999977" fill="#c0c0c0"/>
<rect x="755" y="418" width="3" height="12.699999999999989" fill="#c0c0c0"/>
<rect x="763" y="418" width="3" height="15.5" fill="#c0c0c0"/>
<rect x="771" y="418" width="3" height="17.69999999999999" fill="#c0c0c0"/>
<rect x="779" y="418" width="3" height="18.80000000000001" fill="#c0c0c0"/>
<rect x="787" y="418" width="3" height="16.69999999999999" fill="#c0c0c0"/>
<rect x="795" y="418" width="3" height="14.699999999999989" fill="#c0c0c0"/>
<rect x="803" y="418" width="3" height="13" fill="#c0c0c0"/>
<rect x="811" y="418" width="3" height="8.800000000000011" fill="#c0c0c0"/>
<rect x="819" y="418" width="3" height="4.800000000000011" fill="#c0c0c0"/>
<rect x="827" y="417" width="3" height="1" fill="#c0c0c0"/>
<rect x="835" y="414.1" width="3" height="3.8999999999999773" fill="#c0c0c0"/>
<rect x="843" y="410.1" width="3" height="7.899999999999977" fill="#c0c0c0"/>
<rect x="851" y="407.2" width="3" height="10.800000000000011" fill="#c0c0c0"/>
<rect x="859" y="408.1" width="3" height="9.899999999999977" fill="#c0c0c0"/>
<rect x="867" y="407.2" width="3" height="10.800000000000011" fill="#c0c0c0"/>
<rect x="875" y="404.2" width="3" height="13.800000000000011" fill="#c0c0c0"/>
<rect x="883" y="402.2" width="3" height="15.800000000000011" fill="#c0c0c0"/>
<rect x="891" y="405.3" width="3" height="12.699999999999989" fill="#c0c0c0"/>
<rect x="899" y="406.2" width="3" height="11.800000000000011" fill="#c0c0c0"/>
<rect x="907" y="406.6" width="3" height="11.399999999999977" fill="#c0c0c0"/>
<rect x="915" y="409.2" width="3" height="8.800000000000011" fill="#c0c0c0"/>
<path d="M367,405h25v1h-25zM362,406h5v1h-5zM392,406h3v1h-3zM903,406h13v1h-13zM354,407h8v1h-8zM395,407h4v1h-4zM897,407h6v1h-6zM346,408h8v1h-8zM399,408h3v1h-3zM891,408h6v1h-6zM341,409h5v1h-5zM402,409h3v1h-3zM887,409h4v1h-4zM337,410h4v1h-4zM405,410h4v1h-4zM884,410h3v1h-3zM332,411h5v1h-5zM409,411h3v1h-3zM881,411h3v1h-3zM327,412h5v1h-5zM412,412h2v1h-2zM879,412h2v1h-2zM320,413h7v1h-7zM414,413h3v1h-3zM876,413h3v1h-3zM310,414h10v1h-10zM417,414h2v1h-2zM873,414h3v1h-3zM302,415h8v1h-8zM419,415h3v1h-3zM871,415h2v1h-2zM298,416h4v1h-4zM422,416h2v1h-2zM867,416h4v1h-4zM274,417h24v1h-24zM424,417h3v1h-3zM862,417h5v1h-5zM248,418h26v1h-26zM427,418h2v1h-2zM858,418h4v1h-4zM233,419h15v1h-15zM429,419h3v1h-3zM855,419h3v1h-3zM220,420h13v1h-13zM432,420h2v1h-2zM738,420h22v1h-22zM853,420h2v1h-2zM209,421h11v1h-11zM434,421h3v1h-3zM734,421h4v1h-4zM760,421h4v1h-4zM851,421h2v1h-2zM13,422h28v1h-28zM201,422h8v1h-8zM437,422h2v1h-2zM730,422h4v1h-4zM764,422h4v1h-4zM849,422h2v1h-2zM7,423h6v1h-6zM41,423h17v1h-17zM197,423h4v1h-4zM439,423h3v1h-3zM725,423h5v1h-5zM768,423h4v1h-4zM847,423h2v1h-2zM4,424h3v1h-3zM58,424h4v1h-4zM193,424h4v1h-4zM442,424h2v1h-2zM721,424h4v1h-4zM772,424h4v1h-4zM844,424h3v1h-3zM62,425h4v1h-4zM188,425h5v1h-5zM444,425h3v1h-3zM719,425h2v1h-2zM776,425h4v1h-4zM841,425h3v1h-3zM66,426h4v1h-4zM180,426h8v1h-8zM447,426h2v1h-2zM716,426h3v1h-3zM780,426h3v1h-3zM839,426h2v1h-2zM70,427h4v1h-4zM173,427h7v1h-7zM449,427h3v1h-3zM714,427h2v1h-2zM783,427h4v1h-4zM835,427h4v1h-4zM74,428h5v1h-5zM168,428h5v1h-5zM452,428h2v1h-2zM711,428h3v1h-3zM787,428h6v1h-6zM829,428h6v1h-6zM79,429h4v1h-4zM163,429h5v1h-5zM454,429h3v1h-3zM709,429h2v1h-2zM793,429h7v1h-7zM825,429h4v1h-4zM83,430h4v1h-4zM157,430h6v1h-6zM457,430h2v1h-2zM706,430h3v1h-3zM800,430h3v1h-3zM823,430h2v1h-2zM87,431h2v1h-2zM152,431h5v1h-5zM459,431h3v1h-3zM704,431h2v1h-2zM803,431h20v1h-20zM89,432h2v1h-2zM148,432h4v1h-4zM462,432h3v1h-3zM701,432h3v1h-3zM91,433h5v1h-5zM144,433h4v1h-4zM465,433h4v1h-4zM697,433h4v1h-4zM96,434h6v1h-6zM139,434h5v1h-5zM469,434h3v1h-3zM694,434h3v1h-3zM102,435h6v1h-6zM132,435h7v1h-7zM472,435h4v1h-4zM691,435h3v1h-3zM108,436h24v1h-24zM476,436h7v1h-7zM689,436h2v1h-2zM483,437h9v1h-9zM686,437h3v1h-3zM492,438h7v1h-7zM684,438h2v1h-2zM499,439h5v1h-5zM681,439h3v1h-3zM504,440h7v1h-7zM677,440h4v1h-4zM511,441h10v1h-10zM674,441h3v1h-3zM521,442h8v1h-8zM671,442h3v1h-3zM529,443h5v1h-5zM667,443h4v1h-4zM534,444h7v1h-7zM664,444h3v1h-3zM541,445h10v1h-10zM661,445h3v1h-3zM551,446h8v1h-8zM659,446h2v1h-2zM559,447h5v1h-5zM656,447h3v1h-3zM564,448h5v1h-5zM654,448h2v1h-2zM569,449h5v1h-5zM649,449h5v1h-5zM574,450h5v1h-5zM643,450h6v1h-6zM579,451h5v1h-5zM638,451h5v1h-5zM584,452h5v1h-5zM634,452h4v1h-4zM589,453h5v1h-5zM631,453h3v1h-3zM594,454h5v1h-5zM626,454h5v1h-5zM599,455h27v1h-27z" fill="#ff0000"/>
</g>
<clipPath id="crsi"><rect x="4" y="464" width="1162" height="76"/></clipPath>
<g clip-path="url(#crsi)">
<line x1="4" y1="487.5" x2="1166" y2="487.5" stroke="#c0c0c0" stroke-width="1" stroke-dasharray="3 3" stroke-dashoffset="-1"/>
<line x1="4" y1="517.5" x2="1166" y2="517.5" stroke="#c0c0c0" stroke-width="1" stroke-dasharray="3 3" stroke-dashoffset="-1"/>
<path d="M848,490h5v1h-5zM840,491h8v1h-8zM853,491h1v1h-1zM832,492h8v1h-8zM853,492h1v1h-1zM876,492h2v1h-2zM826,493h6v1h-6zM854,493h1v1h-1zM874,493h2v1h-2zM878,493h4v1h-4zM316,494h4v1h-4zM328,494h8v1h-8zM822,494h4v1h-4zM855,494h1v1h-1zM872,494h2v1h-2zM882,494h3v1h-3zM299,495h2v1h-2zM314,495h2v1h-2zM320,495h8v1h-8zM336,495h8v1h-8zM698,495h11v1h-11zM818,495h4v1h-4zM856,495h1v1h-1zM871,495h1v1h-1zM885,495h1v1h-1zM195,496h2v1h-2zM296,496h3v1h-3zM301,496h2v1h-2zM312,496h2v1h-2zM344,496h6v1h-6zM676,496h2v1h-2zM694,496h4v1h-4zM709,496h1v1h-1zM814,496h4v1h-4zM856,496h1v1h-1zM869,496h2v1h-2zM886,496h1v1h-1zM193,497h2v1h-2zM197,497h1v1h-1zM294,497h2v1h-2zM303,497h2v1h-2zM311,497h1v1h-1zM350,497h2v1h-2zM674,497h2v1h-2zM678,497h2v1h-2zM690,497h4v1h-4zM710,497h1v1h-1zM812,497h2v1h-2zM857,497h1v1h-1zM867,497h2v1h-2zM887,497h1v1h-1zM4,498h2v1h-2zM191,498h2v1h-2zM198,498h1v1h-1zM288,498h6v1h-6zM305,498h2v1h-2zM309,498h2v1h-2zM352,498h3v1h-3zM672,498h2v1h-2zM680,498h3v1h-3zM686,498h4v1h-4zM711,498h1v1h-1zM810,498h2v1h-2zM858,498h1v1h-1zM865,498h2v1h-2zM888,498h1v1h-1zM6,499h2v1h-2zM189,499h2v1h-2zM199,499h1v1h-1zM235,499h2v1h-2zM252,499h4v1h-4zM282,499h6v1h-6zM307,499h2v1h-2zM355,499h19v1h-19zM671,499h1v1h-1zM683,499h3v1h-3zM712,499h2v1h-2zM808,499h2v1h-2zM859,499h1v1h-1zM863,499h2v1h-2zM889,499h1v1h-1zM8,500h3v1h-3zM163,500h3v1h-3zM187,500h2v1h-2zM200,500h1v1h-1zM232,500h3v1h-3zM237,500h1v1h-1zM251,500h1v1h-1zM256,500h6v1h-6zM278,500h4v1h-4zM374,500h2v1h-2zM669,500h2v1h-2zM714,500h1v1h-1zM807,500h1v1h-1zM859,500h1v1h-1zM861,500h2v1h-2zM890,500h1v1h-1zM898,500h4v1h-4zM11,501h2v1h-2zM138,501h12v1h-12zM160,501h3v1h-3zM166,501h2v1h-2zM185,501h2v1h-2zM200,501h1v1h-1zM219,501h5v1h-5zM230,501h2v1h-2zM238,501h1v1h-1zM250,501h1v1h-1zM262,501h4v1h-4zM272,501h6v1h-6zM376,501h3v1h-3zM667,501h2v1h-2zM715,501h1v1h-1zM805,501h2v1h-2zM860,501h1v1h-1zM891,501h1v1h-1zM894,501h4v1h-4zM902,501h4v1h-4zM912,501h4v1h-4zM13,502h2v1h-2zM134,502h4v1h-4zM150,502h4v1h-4zM158,502h2v1h-2zM168,502h3v1h-3zM183,502h2v1h-2zM201,502h1v1h-1zM216,502h3v1h-3zM224,502h6v1h-6zM239,502h1v1h-1zM249,502h1v1h-1zM266,502h6v1h-6zM379,502h2v1h-2zM664,502h3v1h-3zM716,502h4v1h-4zM800,502h5v1h-5zM892,502h2v1h-2zM906,502h6v1h-6zM15,503h2v1h-2zM123,503h11v1h-11zM154,503h4v1h-4zM171,503h5v1h-5zM181,503h2v1h-2zM202,503h1v1h-1zM214,503h2v1h-2zM240,503h1v1h-1zM248,503h1v1h-1zM381,503h2v1h-2zM662,503h2v1h-2zM720,503h6v1h-6zM792,503h8v1h-8zM17,504h2v1h-2zM99,504h11v1h-11zM121,504h2v1h-2zM176,504h5v1h-5zM203,504h1v1h-1zM208,504h6v1h-6zM241,504h1v1h-1zM247,504h1v1h-1zM383,504h2v1h-2zM656,504h6v1h-6zM726,504h4v1h-4zM788,504h4v1h-4zM19,505h3v1h-3zM97,505h2v1h-2zM110,505h2v1h-2zM119,505h2v1h-2zM204,505h4v1h-4zM242,505h1v1h-1zM246,505h1v1h-1zM385,505h2v1h-2zM651,505h5v1h-5zM730,505h3v1h-3zM787,505h1v1h-1zM22,506h4v1h-4zM95,506h2v1h-2zM112,506h3v1h-3zM117,506h2v1h-2zM243,506h1v1h-1zM245,506h1v1h-1zM387,506h2v1h-2zM627,506h3v1h-3zM649,506h2v1h-2zM733,506h2v1h-2zM786,506h1v1h-1zM26,507h4v1h-4zM42,507h4v1h-4zM93,507h2v1h-2zM115,507h2v1h-2zM244,507h1v1h-1zM389,507h1v1h-1zM624,507h3v1h-3zM630,507h2v1h-2zM647,507h2v1h-2zM735,507h1v1h-1zM785,507h1v1h-1zM30,508h4v1h-4zM38,508h4v1h-4zM46,508h4v1h-4zM88,508h5v1h-5zM390,508h1v1h-1zM611,508h5v1h-5zM622,508h2v1h-2zM632,508h3v1h-3zM645,508h2v1h-2zM736,508h2v1h-2zM784,508h1v1h-1zM34,509h4v1h-4zM50,509h3v1h-3zM82,509h6v1h-6zM391,509h1v1h-1zM426,509h6v1h-6zM608,509h3v1h-3zM616,509h6v1h-6zM635,509h10v1h-10zM738,509h2v1h-2zM784,509h1v1h-1zM53,510h2v1h-2zM78,510h4v1h-4zM392,510h1v1h-1zM412,510h4v1h-4zM422,510h4v1h-4zM432,510h13v1h-13zM606,510h2v1h-2zM740,510h1v1h-1zM783,510h1v1h-1zM55,511h2v1h-2zM72,511h6v1h-6zM392,511h1v1h-1zM410,511h2v1h-2zM416,511h6v1h-6zM445,511h2v1h-2zM459,511h11v1h-11zM507,511h10v1h-10zM603,511h3v1h-3zM741,511h2v1h-2zM782,511h1v1h-1zM57,512h2v1h-2zM64,512h8v1h-8zM393,512h1v1h-1zM409,512h1v1h-1zM447,512h2v1h-2zM456,512h3v1h-3zM470,512h2v1h-2zM482,512h12v1h-12zM505,512h2v1h-2zM517,512h2v1h-2zM600,512h3v1h-3zM743,512h2v1h-2zM781,512h1v1h-1zM59,513h5v1h-5zM394,513h1v1h-1zM408,513h1v1h-1zM449,513h2v1h-2zM454,513h2v1h-2zM472,513h3v1h-3zM478,513h4v1h-4zM494,513h2v1h-2zM503,513h2v1h-2zM519,513h1v1h-1zM572,513h2v1h-2zM598,513h2v1h-2zM745,513h2v1h-2zM770,513h11v1h-11zM395,514h1v1h-1zM406,514h2v1h-2zM451,514h3v1h-3zM475,514h3v1h-3zM496,514h3v1h-3zM501,514h2v1h-2zM520,514h2v1h-2zM571,514h1v1h-1zM574,514h2v1h-2zM594,514h4v1h-4zM747,514h13v1h-13zM766,514h4v1h-4zM396,515h4v1h-4zM405,515h1v1h-1zM499,515h2v1h-2zM522,515h2v1h-2zM570,515h1v1h-1zM576,515h3v1h-3zM590,515h4v1h-4zM760,515h6v1h-6zM400,516h5v1h-5zM524,516h10v1h-10zM570,516h1v1h-1zM579,516h11v1h-11zM534,517h4v1h-4zM569,517h1v1h-1zM538,518h4v1h-4zM568,518h1v1h-1zM542,519h4v1h-4zM567,519h1v1h-1zM546,520h6v1h-6zM566,520h1v1h-1zM552,521h6v1h-6zM566,521h1v1h-1zM558,522h4v1h-4zM565,522h1v1h-1zM562,523h3v1h-3z" fill="#1e90ff"/>
</g>
</g>
<rect x="1167" y="30" width="2" height="1" fill="#000"/>
<text x="1172.2" y="33.7" font-size="10.0" fill="#000" font-weight="normal" text-anchor="start" textLength="33" lengthAdjust="spacingAndGlyphs">0.72220</text>
<rect x="1167" y="63" width="2" height="1" fill="#000"/>
<text x="1172.2" y="66.7" font-size="10.0" fill="#000" font-weight="normal" text-anchor="start" textLength="33" lengthAdjust="spacingAndGlyphs">0.71860</text>
<rect x="1167" y="96" width="2" height="1" fill="#000"/>
<text x="1172.2" y="99.7" font-size="10.0" fill="#000" font-weight="normal" text-anchor="start" textLength="33" lengthAdjust="spacingAndGlyphs">0.71500</text>
<rect x="1167" y="129" width="2" height="1" fill="#000"/>
<text x="1172.2" y="132.7" font-size="10.0" fill="#000" font-weight="normal" text-anchor="start" textLength="33" lengthAdjust="spacingAndGlyphs">0.71140</text>
<rect x="1167" y="162" width="2" height="1" fill="#000"/>
<text x="1172.2" y="165.7" font-size="10.0" fill="#000" font-weight="normal" text-anchor="start" textLength="33" lengthAdjust="spacingAndGlyphs">0.70770</text>
<rect x="1167" y="195" width="2" height="1" fill="#000"/>
<text x="1172.2" y="198.7" font-size="10.0" fill="#000" font-weight="normal" text-anchor="start" textLength="33" lengthAdjust="spacingAndGlyphs">0.70410</text>
<rect x="1167" y="228" width="2" height="1" fill="#000"/>
<text x="1172.2" y="231.7" font-size="10.0" fill="#000" font-weight="normal" text-anchor="start" textLength="33" lengthAdjust="spacingAndGlyphs">0.70050</text>
<rect x="1167" y="261" width="2" height="1" fill="#000"/>
<text x="1172.2" y="264.7" font-size="10.0" fill="#000" font-weight="normal" text-anchor="start" textLength="33" lengthAdjust="spacingAndGlyphs">0.69680</text>
<rect x="1167" y="294" width="2" height="1" fill="#000"/>
<text x="1172.2" y="297.7" font-size="10.0" fill="#000" font-weight="normal" text-anchor="start" textLength="33" lengthAdjust="spacingAndGlyphs">0.69320</text>
<rect x="1167" y="327" width="2" height="1" fill="#000"/>
<text x="1172.2" y="330.7" font-size="10.0" fill="#000" font-weight="normal" text-anchor="start" textLength="33" lengthAdjust="spacingAndGlyphs">0.68960</text>
<rect x="1167" y="360" width="2" height="1" fill="#000"/>
<text x="1172.2" y="363.7" font-size="10.0" fill="#000" font-weight="normal" text-anchor="start" textLength="33" lengthAdjust="spacingAndGlyphs">0.68600</text>
<rect x="1167" y="393" width="2" height="1" fill="#000"/>
<text x="1172.2" y="396.7" font-size="10.0" fill="#000" font-weight="normal" text-anchor="start" textLength="33" lengthAdjust="spacingAndGlyphs">0.68240</text>
<rect x="1168" y="253" width="41" height="11" fill="#000"/>
<text x="1172.2" y="261.8" font-size="10.0" fill="#fff" font-weight="normal" text-anchor="start" textLength="33" lengthAdjust="spacingAndGlyphs">0.69724</text>
<rect x="1167" y="400" width="3" height="1" fill="#000"/>
<rect x="1167" y="418" width="3" height="1" fill="#000"/>
<rect x="1167" y="460" width="3" height="1" fill="#000"/>
<text x="1170" y="408.8" font-size="10.0" fill="#000" font-weight="normal" text-anchor="start" textLength="40" lengthAdjust="spacingAndGlyphs">0.002343</text>
<text x="1170" y="421.8" font-size="10.0" fill="#000" font-weight="normal" text-anchor="start" textLength="19.5" lengthAdjust="spacingAndGlyphs">0.00</text>
<text x="1170" y="458.7" font-size="10.0" fill="#000" font-weight="normal" text-anchor="start" textLength="44" lengthAdjust="spacingAndGlyphs">-0.005473</text>
<rect x="1167" y="465" width="3" height="1" fill="#000"/>
<rect x="1167" y="487" width="3" height="1" fill="#000"/>
<rect x="1167" y="517" width="3" height="1" fill="#000"/>
<rect x="1167" y="539" width="3" height="1" fill="#000"/>
<text x="1170" y="474.6" font-size="10.0" fill="#000" font-weight="normal" text-anchor="start" textLength="16.5" lengthAdjust="spacingAndGlyphs">100</text>
<text x="1170" y="491.3" font-size="10.0" fill="#000" font-weight="normal" text-anchor="start" textLength="11" lengthAdjust="spacingAndGlyphs">70</text>
<text x="1170" y="521.2" font-size="10.0" fill="#000" font-weight="normal" text-anchor="start" textLength="11" lengthAdjust="spacingAndGlyphs">30</text>
<text x="1170" y="537.3" font-size="10.0" fill="#000" font-weight="normal" text-anchor="start" textLength="5.5" lengthAdjust="spacingAndGlyphs">0</text>
<rect x="4" y="541" width="1" height="3" fill="#000"/>
<text x="3.3" y="553.1" font-size="10.0" fill="#000" font-weight="normal" text-anchor="start" textLength="51.2" lengthAdjust="spacingAndGlyphs">26 Feb 2019</text>
<rect x="68" y="541" width="1" height="3" fill="#000"/>
<text x="67.3" y="553.1" font-size="10.0" fill="#000" font-weight="normal" text-anchor="start" textLength="47.2" lengthAdjust="spacingAndGlyphs">7 Mar 2019</text>
<rect x="132" y="541" width="1" height="3" fill="#000"/>
<text x="131.3" y="553.1" font-size="10.0" fill="#000" font-weight="normal" text-anchor="start" textLength="51.3" lengthAdjust="spacingAndGlyphs">16 Mar 2019</text>
<rect x="196" y="541" width="1" height="3" fill="#000"/>
<text x="195.3" y="553.1" font-size="10.0" fill="#000" font-weight="normal" text-anchor="start" textLength="51.8" lengthAdjust="spacingAndGlyphs">26 Mar 2019</text>
<rect x="260" y="541" width="1" height="3" fill="#000"/>
<text x="259.3" y="553.1" font-size="10.0" fill="#000" font-weight="normal" text-anchor="start" textLength="45.9" lengthAdjust="spacingAndGlyphs">4 Apr 2019</text>
<rect x="324" y="541" width="1" height="3" fill="#000"/>
<text x="323.3" y="553.1" font-size="10.0" fill="#000" font-weight="normal" text-anchor="start" textLength="50.7" lengthAdjust="spacingAndGlyphs">13 Apr 2019</text>
<rect x="388" y="541" width="1" height="3" fill="#000"/>
<text x="387.3" y="553.1" font-size="10.0" fill="#000" font-weight="normal" text-anchor="start" textLength="51" lengthAdjust="spacingAndGlyphs">23 Apr 2019</text>
<rect x="452" y="541" width="1" height="3" fill="#000"/>
<text x="451.3" y="553.1" font-size="10.0" fill="#000" font-weight="normal" text-anchor="start" textLength="49.1" lengthAdjust="spacingAndGlyphs">2 May 2019</text>
<rect x="516" y="541" width="1" height="3" fill="#000"/>
<text x="515.3" y="553.1" font-size="10.0" fill="#000" font-weight="normal" text-anchor="start" textLength="54.5" lengthAdjust="spacingAndGlyphs">11 May 2019</text>
<rect x="580" y="541" width="1" height="3" fill="#000"/>
<text x="579.3" y="553.1" font-size="10.0" fill="#000" font-weight="normal" text-anchor="start" textLength="54.6" lengthAdjust="spacingAndGlyphs">21 May 2019</text>
<rect x="644" y="541" width="1" height="3" fill="#000"/>
<text x="643.3" y="553.1" font-size="10.0" fill="#000" font-weight="normal" text-anchor="start" textLength="54.5" lengthAdjust="spacingAndGlyphs">30 May 2019</text>
<rect x="708" y="541" width="1" height="3" fill="#000"/>
<text x="707.3" y="553.1" font-size="10.0" fill="#000" font-weight="normal" text-anchor="start" textLength="44.9" lengthAdjust="spacingAndGlyphs">8 Jun 2019</text>
<rect x="772" y="541" width="1" height="3" fill="#000"/>
<text x="771.3" y="553.1" font-size="10.0" fill="#000" font-weight="normal" text-anchor="start" textLength="49.7" lengthAdjust="spacingAndGlyphs">18 Jun 2019</text>
<rect x="836" y="541" width="1" height="3" fill="#000"/>
<text x="835.3" y="553.1" font-size="10.0" fill="#000" font-weight="normal" text-anchor="start" textLength="49.5" lengthAdjust="spacingAndGlyphs">27 Jun 2019</text>
<rect x="900" y="541" width="1" height="3" fill="#000"/>
<text x="899.3" y="553.1" font-size="10.0" fill="#000" font-weight="normal" text-anchor="start" textLength="42.3" lengthAdjust="spacingAndGlyphs">6 Jul 2019</text>
<text x="8.6" y="411.3" font-size="10.0" fill="#000" font-weight="normal" text-anchor="start" textLength="64.8" lengthAdjust="spacingAndGlyphs">MACD(12,26,9)</text>
<text x="77.4" y="411.3" font-size="10.0" fill="#000" font-weight="normal" text-anchor="start" textLength="36.3" lengthAdjust="spacingAndGlyphs">0.001170</text>
<text x="118.1" y="411.3" font-size="10.0" fill="#000" font-weight="normal" text-anchor="start" textLength="37.3" lengthAdjust="spacingAndGlyphs">0.001513</text>
<text x="8.3" y="475.8" font-size="10.0" fill="#000" font-weight="normal" text-anchor="start" textLength="31.4" lengthAdjust="spacingAndGlyphs">RSI(14)</text>
<text x="43" y="475.8" font-size="10.0" fill="#000" font-weight="normal" text-anchor="start" textLength="32.6" lengthAdjust="spacingAndGlyphs">51.2727</text>
<path d="M7,38 L10.5,34 L14,38 Z" fill="#000"/>
<text x="19.5" y="39" font-size="10.0" fill="#000" font-weight="normal" text-anchor="start" textLength="65" lengthAdjust="spacingAndGlyphs">AUDUSD,Daily</text>
<text x="91.6" y="39" font-size="10.0" fill="#000" font-weight="normal" text-anchor="start" textLength="32.0" lengthAdjust="spacingAndGlyphs">0.69668</text>
<text x="127.3" y="39" font-size="10.0" fill="#000" font-weight="normal" text-anchor="start" textLength="32.7" lengthAdjust="spacingAndGlyphs">0.69743</text>
<text x="163" y="39" font-size="10.0" fill="#000" font-weight="normal" text-anchor="start" textLength="32.7" lengthAdjust="spacingAndGlyphs">0.69661</text>
<text x="199" y="39" font-size="10.0" fill="#000" font-weight="normal" text-anchor="start" textLength="32.8" lengthAdjust="spacingAndGlyphs">0.69724</text>
<defs>
<linearGradient id="gpan" gradientUnits="userSpaceOnUse" x1="0" y1="47" x2="0" y2="111"><stop offset="0" stop-color="#f55d5d"/><stop offset="0.37" stop-color="#df3232"/><stop offset="0.39" stop-color="#d92c2c"/><stop offset="1" stop-color="#a60000"/></linearGradient>
<linearGradient id="gbtn" x1="0" y1="0" x2="0" y2="1"><stop offset="0" stop-color="#f2f2f2"/><stop offset="0.33" stop-color="#ebebeb"/><stop offset="0.34" stop-color="#dcdcdc"/><stop offset="1" stop-color="#d4d4d4"/></linearGradient>
</defs>
<rect x="5" y="42" width="224" height="71" fill="#ffffff"/>
<path d="M7,47 H59 V71 H116 V111 H7 Z" fill="url(#gpan)"/>
<path d="M7.5,110.5 V47.5 H58.5 V71.5 H115.5 V110.5 Z" fill="none" stroke="#b30000" stroke-width="1"/>
<path d="M118,71 H174 V47 H226 V111 H118 Z" fill="url(#gpan)"/>
<path d="M118.5,110.5 V71.5 H174.5 V47.5 H225.5 V110.5 Z" fill="none" stroke="#b30000" stroke-width="1"/>
<rect x="11" y="70" width="44" height="1" fill="#8c0000"/>
<rect x="11" y="71" width="44" height="1" fill="#f07a7a"/>
<rect x="178" y="70" width="44" height="1" fill="#8c0000"/>
<rect x="178" y="71" width="44" height="1" fill="#f07a7a"/>
<rect x="61.5" y="47.5" width="110" height="21" fill="#ffffff" stroke="#a9adb4"/>
<rect x="62" y="48" width="20" height="20" fill="#ffffff"/>
<rect x="63" y="49" width="18" height="18" fill="url(#gbtn)"/>
<rect x="82" y="48" width="1" height="20" fill="#a9adb4"/>
<rect x="150" y="48" width="1" height="20" fill="#a9adb4"/>
<rect x="151" y="48" width="20" height="20" fill="#ffffff"/>
<rect x="152" y="49" width="18" height="18" fill="url(#gbtn)"/>
<path d="M69,56 h5.5 l-2.75,3 z" fill="#5464c8"/>
<path d="M158,59 h5.5 l-2.75,-3 z" fill="#5464c8"/>
<text x="147.2" y="62" font-size="12.6" fill="#000" font-weight="normal" text-anchor="end" textLength="23.8" lengthAdjust="spacingAndGlyphs">5.00</text>
<text x="19" y="63" font-size="12.5" fill="#ffffff" font-weight="normal" text-anchor="start" textLength="26" lengthAdjust="spacingAndGlyphs">SELL</text>
<text x="187" y="63" font-size="12.5" fill="#ffffff" font-weight="normal" text-anchor="start" textLength="24" lengthAdjust="spacingAndGlyphs">BUY</text>
<text x="27" y="102.1" font-size="12.7" fill="#ffffff" font-weight="bold" text-anchor="start" textLength="23.5" lengthAdjust="spacingAndGlyphs">0.69</text>
<text x="54.3" y="102" font-size="35.5" fill="#ffffff" font-weight="normal" text-anchor="start" textLength="34.3" lengthAdjust="spacingAndGlyphs" stroke="url(#gpan)" stroke-width="0.45">72</text>
<text x="94" y="86" font-size="12.6" fill="#ffffff" font-weight="bold" text-anchor="start" textLength="6.7" lengthAdjust="spacingAndGlyphs">4</text>
<text x="137" y="102.1" font-size="12.7" fill="#ffffff" font-weight="bold" text-anchor="start" textLength="23.5" lengthAdjust="spacingAndGlyphs">0.69</text>
<text x="165.8" y="102" font-size="35.5" fill="#ffffff" font-weight="normal" text-anchor="start" textLength="34.3" lengthAdjust="spacingAndGlyphs" stroke="url(#gpan)" stroke-width="0.45">74</text>
<text x="205" y="86" font-size="12.6" fill="#ffffff" font-weight="bold" text-anchor="start" textLength="6.7" lengthAdjust="spacingAndGlyphs">6</text>
<rect x="0" y="561" width="1210" height="1" fill="#e6e6e6"/>
<rect x="0" y="563" width="1210" height="1" fill="#000"/>
<rect x="0" y="564" width="1210" height="18" fill="#f0f0f0"/>
<rect x="0" y="582" width="1210" height="1" fill="#fbfbfb"/>
<rect x="0" y="583" width="1210" height="4" fill="#f0f0f0"/>
<rect x="0" y="564" width="1" height="18" fill="#5a5a5a"/>
<rect x="1" y="564" width="1" height="18" fill="#ffffff"/>
<rect x="1" y="564" width="108" height="1" fill="#ffffff"/>
<rect x="110" y="563" width="103" height="18" fill="#ffffff"/>
<rect x="109" y="563" width="1" height="19" fill="#000"/>
<rect x="213" y="563" width="1" height="19" fill="#000"/>
<rect x="109" y="581" width="105" height="1" fill="#000"/>
<text x="17" y="577.5" font-size="12.5" fill="#707070" font-weight="normal" text-anchor="start" textLength="80" lengthAdjust="spacingAndGlyphs">EURUSD,Daily</text>
<text x="120" y="577.5" font-size="12.5" fill="#000" font-weight="normal" text-anchor="start" textLength="82" lengthAdjust="spacingAndGlyphs">AUDUSD,Daily</text>
<text x="223.6" y="577.5" font-size="12.5" fill="#707070" font-weight="normal" text-anchor="start" textLength="78.1" lengthAdjust="spacingAndGlyphs">USDCHF,Daily</text>
<text x="325" y="577.5" font-size="12.5" fill="#707070" font-weight="normal" text-anchor="start" textLength="80" lengthAdjust="spacingAndGlyphs">USDCAD,Daily</text>
<text x="427" y="577.5" font-size="12.5" fill="#707070" font-weight="normal" text-anchor="start" textLength="83" lengthAdjust="spacingAndGlyphs">USDCNH,Daily</text>
<text x="532.2" y="577.5" font-size="12.5" fill="#707070" font-weight="normal" text-anchor="start" textLength="68.6" lengthAdjust="spacingAndGlyphs">XAUUSD,H4</text>
<text x="623.4" y="577.5" font-size="12.5" fill="#707070" font-weight="normal" text-anchor="start" textLength="46.4" lengthAdjust="spacingAndGlyphs">DJ30,H4</text>
<text x="693.3" y="577.5" font-size="12.5" fill="#707070" font-weight="normal" text-anchor="start" textLength="59.0" lengthAdjust="spacingAndGlyphs">USDOil,H1</text>
<text x="775.4" y="577.5" font-size="12.5" fill="#707070" font-weight="normal" text-anchor="start" textLength="66.4" lengthAdjust="spacingAndGlyphs">USDCHF,H1</text>
<text x="865.4" y="577.5" font-size="12.5" fill="#707070" font-weight="normal" text-anchor="start" textLength="66.9" lengthAdjust="spacingAndGlyphs">GBPUSD,H1</text>
<text x="957.1" y="577.5" font-size="12.5" fill="#707070" font-weight="normal" text-anchor="start" textLength="67.7" lengthAdjust="spacingAndGlyphs">EURUSD,H1</text>
<text x="1048.6" y="577.5" font-size="12.5" fill="#707070" font-weight="normal" text-anchor="start" textLength="67.7" lengthAdjust="spacingAndGlyphs">GBPAUD,H1</text>
<text x="1139.4" y="577.5" font-size="12.5" fill="#707070" font-weight="normal" text-anchor="start" textLength="35.7" lengthAdjust="spacingAndGlyphs">USDJP</text>
<rect x="313" y="566" width="1" height="14" fill="#707070"/>
<rect x="417" y="566" width="1" height="14" fill="#707070"/>
<rect x="521" y="566" width="1" height="14" fill="#707070"/>
<rect x="613" y="566" width="1" height="14" fill="#707070"/>
<rect x="681" y="566" width="1" height="14" fill="#707070"/>
<rect x="765" y="566" width="1" height="14" fill="#707070"/>
<rect x="853" y="566" width="1" height="14" fill="#707070"/>
<rect x="945" y="566" width="1" height="14" fill="#707070"/>
<rect x="1037" y="566" width="1" height="14" fill="#707070"/>
<rect x="1129" y="566" width="1" height="14" fill="#707070"/>
<path d="M1185.5,569 v6 l-3.5,-3 z" fill="#a0a0a0"/>
<path d="M1200.5,569 v6 l3.5,-3 z" fill="#000"/>
</svg>
</body></html>
